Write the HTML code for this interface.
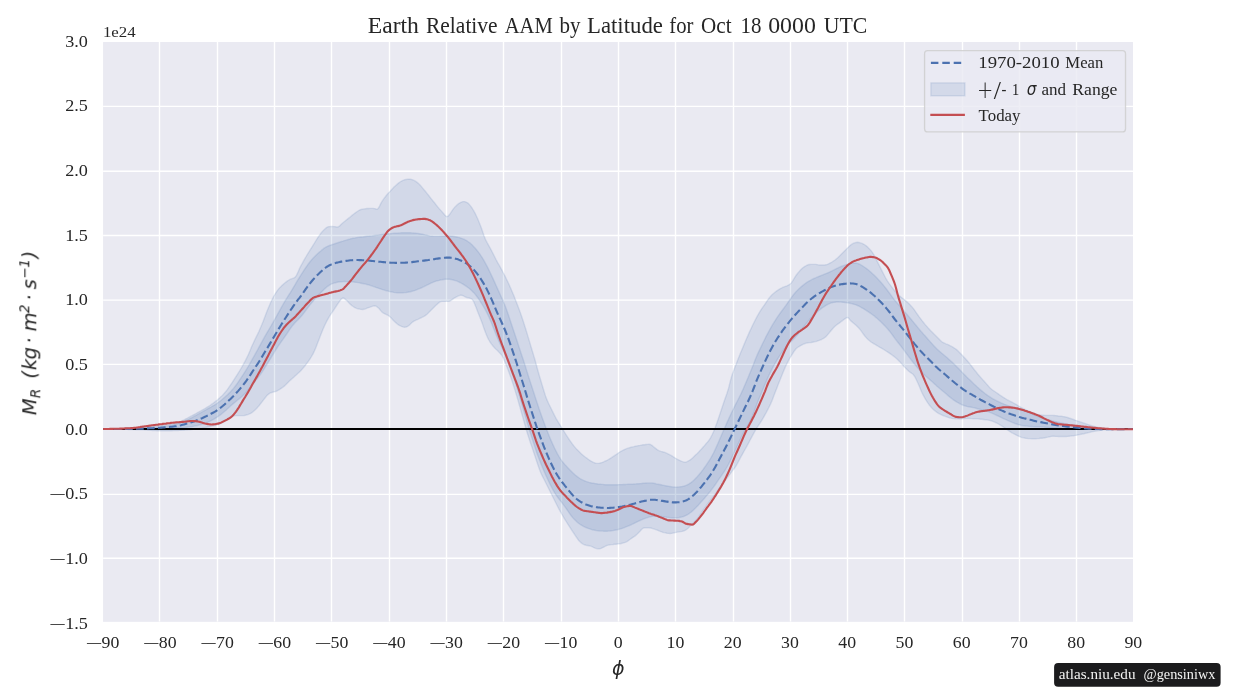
<!DOCTYPE html>
<html lang="en"><head><meta charset="utf-8"><title>Earth Relative AAM by Latitude</title>
<style>html,body{margin:0;padding:0;background:#fff;}body{width:1246px;height:700px;overflow:hidden;}svg{display:block;}</style></head>
<body>
<svg width="1246" height="700" viewBox="0 0 1246 700">
<rect x="0" y="0" width="1246" height="700" fill="#ffffff"/>
<rect x="103.07" y="42.04" width="1029.9" height="579.8" fill="#eaeaf2"/>
<defs><clipPath id="ax"><rect x="103.07" y="42.04" width="1029.9" height="579.8"/></clipPath></defs>
<path d="M159.50 42.04V621.83M217.50 42.04V621.83M274.50 42.04V621.83M331.50 42.04V621.83M389.50 42.04V621.83M446.50 42.04V621.83M503.50 42.04V621.83M561.50 42.04V621.83M618.50 42.04V621.83M675.50 42.04V621.83M733.50 42.04V621.83M790.50 42.04V621.83M847.50 42.04V621.83M904.50 42.04V621.83M962.50 42.04V621.83M1019.50 42.04V621.83M1076.50 42.04V621.83M103.07 106.40H1133.0M103.07 171.20H1133.0M103.07 235.50H1133.0M103.07 300.10H1133.0M103.07 364.40H1133.0M103.07 429.00H1133.0M103.07 494.40H1133.0M103.07 558.20H1133.0" stroke="#ffffff" stroke-width="1.4" fill="none" clip-path="url(#ax)"/>
<g clip-path="url(#ax)">
<polygon points="103.0,429.0 104.5,429.0 106.0,429.0 107.5,429.0 109.0,429.0 110.5,429.0 112.0,429.0 113.5,428.9 115.0,428.9 116.5,428.9 118.0,428.9 119.5,428.9 121.0,428.9 122.5,428.8 124.0,428.8 125.5,428.8 127.0,428.7 128.5,428.7 130.0,428.6 131.5,428.5 133.0,428.3 134.5,428.2 136.0,428.1 137.5,427.9 139.0,427.7 140.5,427.6 142.0,427.4 143.5,427.2 145.0,427.0 146.5,426.9 148.0,426.7 149.5,426.5 151.0,426.4 152.5,426.3 154.0,426.1 155.5,426.0 157.0,425.8 158.5,425.7 160.0,425.5 161.5,425.4 163.0,425.2 164.5,425.0 166.0,424.9 167.5,424.8 169.0,424.6 170.5,424.4 172.0,424.2 173.5,424.0 175.0,423.7 176.5,423.4 178.0,422.8 179.5,422.2 181.0,421.5 182.5,420.7 184.0,419.9 185.5,419.0 187.0,418.3 188.5,417.5 190.0,416.7 191.5,415.9 193.0,415.1 194.5,414.3 196.0,413.5 197.5,412.6 199.0,411.8 200.5,411.0 202.0,410.2 203.5,409.3 205.0,408.5 206.5,407.6 208.0,406.7 209.5,405.8 211.0,404.7 212.5,403.7 214.0,402.6 215.5,401.4 217.0,400.2 218.5,398.9 220.0,397.6 221.5,396.2 223.0,394.7 224.5,393.0 226.0,391.3 227.5,389.3 229.0,387.2 230.5,385.0 232.0,382.8 233.5,380.5 235.0,378.2 236.5,375.8 238.0,373.4 239.5,371.0 241.0,368.5 242.5,365.9 244.0,363.2 245.5,360.4 247.0,357.4 248.5,354.2 250.0,350.7 251.5,347.1 253.0,343.7 254.5,340.5 256.0,337.4 257.5,334.4 259.0,331.2 260.5,327.8 262.0,324.2 263.5,320.5 265.0,316.6 266.5,312.6 268.0,308.7 269.5,305.2 271.0,301.8 272.5,298.7 274.0,295.8 275.5,293.3 277.0,291.1 278.5,289.1 280.0,287.4 281.5,285.9 283.0,284.6 284.5,283.3 286.0,282.1 287.5,280.9 289.0,280.0 290.5,279.2 292.0,278.7 293.5,278.2 295.0,277.3 296.5,275.3 298.0,272.1 299.5,268.6 301.0,265.6 302.5,262.9 304.0,260.2 305.5,257.5 307.0,255.0 308.5,252.6 310.0,250.2 311.5,247.8 313.0,245.4 314.5,243.0 316.0,240.5 317.5,238.1 319.0,235.9 320.5,233.8 322.0,231.9 323.5,230.3 325.0,228.9 326.5,227.6 328.0,226.8 329.5,226.6 331.0,226.5 332.5,226.5 334.0,226.6 335.5,226.8 337.0,227.1 338.5,226.8 340.0,225.6 341.5,224.1 343.0,222.7 344.5,221.5 346.0,220.3 347.5,219.1 349.0,217.9 350.5,216.7 352.0,215.4 353.5,214.2 355.0,213.1 356.5,212.0 358.0,211.0 359.5,210.1 361.0,209.5 362.5,209.1 364.0,208.9 365.5,208.7 367.0,208.5 368.5,208.5 370.0,208.4 371.5,208.4 373.0,208.4 374.5,208.6 376.0,209.0 377.5,209.1 379.0,207.3 380.5,204.1 382.0,201.4 383.5,199.2 385.0,197.2 386.5,195.3 388.0,193.5 389.5,191.9 391.0,190.3 392.5,188.7 394.0,187.1 395.5,185.7 397.0,184.4 398.5,183.1 400.0,182.0 401.5,181.1 403.0,180.4 404.5,179.8 406.0,179.5 407.5,179.3 409.0,179.1 410.5,179.2 412.0,179.6 413.5,180.2 415.0,180.9 416.5,181.9 418.0,183.1 419.5,184.5 421.0,186.1 422.5,187.9 424.0,189.7 425.5,191.5 427.0,193.4 428.5,195.3 430.0,197.2 431.5,199.1 433.0,201.0 434.5,202.8 436.0,204.7 437.5,206.6 439.0,208.4 440.5,210.1 442.0,211.8 443.5,213.5 445.0,215.3 446.5,216.6 448.0,216.2 449.5,214.6 451.0,212.4 452.5,210.1 454.0,208.1 455.5,206.4 457.0,204.9 458.5,203.7 460.0,202.8 461.5,202.1 463.0,201.6 464.5,201.6 466.0,202.1 467.5,202.8 469.0,204.1 470.5,205.9 472.0,208.0 473.5,210.4 475.0,213.1 476.5,216.2 478.0,219.5 479.5,223.2 481.0,227.1 482.5,231.3 484.0,235.7 485.5,239.5 487.0,242.4 488.5,245.1 490.0,247.8 491.5,250.6 493.0,253.5 494.5,256.5 496.0,259.5 497.5,262.3 499.0,264.9 500.5,267.6 502.0,270.3 503.5,273.2 505.0,276.1 506.5,279.2 508.0,282.3 509.5,285.6 511.0,289.0 512.5,292.5 514.0,296.1 515.5,299.9 517.0,303.7 518.5,307.7 520.0,311.8 521.5,316.0 523.0,320.5 524.5,325.2 526.0,330.0 527.5,334.9 529.0,339.9 530.5,345.0 532.0,350.0 533.5,354.9 535.0,360.0 536.5,365.5 538.0,371.0 539.5,376.3 541.0,381.3 542.5,386.3 544.0,391.2 545.5,395.9 547.0,399.9 548.5,403.2 550.0,406.3 551.5,409.3 553.0,412.4 554.5,415.4 556.0,418.3 557.5,420.9 559.0,423.3 560.5,425.7 562.0,428.1 563.5,430.6 565.0,433.0 566.5,435.4 568.0,437.7 569.5,440.0 571.0,442.1 572.5,444.2 574.0,446.1 575.5,447.9 577.0,449.6 578.5,451.1 580.0,452.6 581.5,454.0 583.0,455.3 584.5,456.5 586.0,457.7 587.5,458.7 589.0,459.8 590.5,460.8 592.0,461.6 593.5,462.4 595.0,463.0 596.5,463.4 598.0,463.4 599.5,463.2 601.0,462.8 602.5,462.3 604.0,461.7 605.5,461.0 607.0,460.3 608.5,459.5 610.0,458.6 611.5,457.7 613.0,456.7 614.5,455.7 616.0,454.7 617.5,453.6 619.0,452.5 620.5,451.6 622.0,450.8 623.5,450.0 625.0,449.3 626.5,448.7 628.0,448.2 629.5,447.7 631.0,447.3 632.5,446.9 634.0,446.6 635.5,446.2 637.0,445.9 638.5,445.6 640.0,445.4 641.5,445.1 643.0,444.8 644.5,444.7 646.0,444.5 647.5,444.4 649.0,444.3 650.5,444.5 652.0,445.4 653.5,446.7 655.0,447.9 656.5,449.1 658.0,450.2 659.5,450.9 661.0,451.4 662.5,451.8 664.0,452.2 665.5,452.7 667.0,453.4 668.5,454.1 670.0,454.9 671.5,455.7 673.0,456.7 674.5,457.6 676.0,458.5 677.5,459.4 679.0,460.1 680.5,460.8 682.0,461.4 683.5,461.9 685.0,462.2 686.5,461.9 688.0,461.2 689.5,460.3 691.0,459.3 692.5,458.0 694.0,456.6 695.5,455.1 697.0,453.7 698.5,452.2 700.0,450.6 701.5,449.0 703.0,447.3 704.5,445.6 706.0,443.8 707.5,442.1 709.0,440.2 710.5,437.9 712.0,435.0 713.5,431.8 715.0,428.1 716.5,424.1 718.0,419.8 719.5,415.3 721.0,410.8 722.5,406.2 724.0,401.7 725.5,397.4 727.0,393.2 728.5,388.4 730.0,382.4 731.5,376.8 733.0,372.3 734.5,368.3 736.0,364.4 737.5,360.5 739.0,356.8 740.5,353.1 742.0,349.4 743.5,345.9 745.0,342.3 746.5,338.8 748.0,335.4 749.5,331.9 751.0,328.7 752.5,325.5 754.0,322.5 755.5,319.5 757.0,316.7 758.5,314.0 760.0,311.4 761.5,309.1 763.0,306.9 764.5,304.8 766.0,302.6 767.5,300.3 769.0,298.2 770.5,296.4 772.0,294.8 773.5,293.5 775.0,292.2 776.5,291.1 778.0,290.1 779.5,289.1 781.0,288.3 782.5,287.5 784.0,286.9 785.5,286.3 787.0,285.8 788.5,285.1 790.0,284.1 791.5,282.7 793.0,280.4 794.5,277.8 796.0,275.5 797.5,273.5 799.0,271.7 800.5,270.1 802.0,268.6 803.5,267.3 805.0,266.3 806.5,265.5 808.0,264.8 809.5,264.5 811.0,264.4 812.5,264.4 814.0,264.4 815.5,264.4 817.0,264.6 818.5,264.9 820.0,265.0 821.5,265.0 823.0,265.0 824.5,265.0 826.0,264.8 827.5,264.3 829.0,263.6 830.5,262.8 832.0,262.0 833.5,261.0 835.0,260.0 836.5,258.8 838.0,257.5 839.5,256.1 841.0,254.6 842.5,253.1 844.0,251.6 845.5,250.1 847.0,248.5 848.5,247.0 850.0,245.6 851.5,244.4 853.0,243.5 854.5,242.9 856.0,242.5 857.5,242.3 859.0,242.5 860.5,242.9 862.0,243.4 863.5,244.1 865.0,245.0 866.5,246.1 868.0,247.4 869.5,248.9 871.0,250.6 872.5,252.6 874.0,255.1 875.5,257.9 877.0,260.9 878.5,263.9 880.0,266.9 881.5,269.9 883.0,272.9 884.5,275.8 886.0,278.7 887.5,281.2 889.0,283.3 890.5,285.3 892.0,287.3 893.5,289.3 895.0,291.2 896.5,292.9 898.0,294.4 899.5,295.8 901.0,297.1 902.5,298.3 904.0,299.4 905.5,300.6 907.0,301.9 908.5,303.3 910.0,304.8 911.5,306.4 913.0,308.1 914.5,310.1 916.0,312.3 917.5,314.5 919.0,316.6 920.5,318.6 922.0,320.6 923.5,322.5 925.0,324.4 926.5,326.1 928.0,327.8 929.5,329.4 931.0,331.0 932.5,332.5 934.0,334.1 935.5,335.5 937.0,337.0 938.5,338.5 940.0,340.1 941.5,341.5 943.0,342.5 944.5,343.2 946.0,343.9 947.5,344.4 949.0,345.1 950.5,345.9 952.0,346.7 953.5,347.6 955.0,348.5 956.5,349.6 958.0,350.9 959.5,352.4 961.0,354.0 962.5,355.6 964.0,357.2 965.5,358.8 967.0,360.5 968.5,362.2 970.0,364.1 971.5,366.0 973.0,368.0 974.5,370.0 976.0,371.8 977.5,373.7 979.0,375.5 980.5,377.2 982.0,378.9 983.5,380.6 985.0,382.2 986.5,383.9 988.0,385.6 989.5,387.4 991.0,388.8 992.5,390.0 994.0,391.0 995.5,392.0 997.0,393.0 998.5,394.1 1000.0,395.2 1001.5,396.2 1003.0,397.2 1004.5,398.1 1006.0,399.0 1007.5,399.9 1009.0,400.7 1010.5,401.5 1012.0,402.2 1013.5,403.0 1015.0,403.8 1016.5,404.6 1018.0,405.6 1019.5,406.5 1021.0,407.4 1022.5,408.2 1024.0,408.9 1025.5,409.7 1027.0,410.4 1028.5,411.0 1030.0,411.7 1031.5,412.3 1033.0,412.8 1034.5,413.4 1036.0,413.9 1037.5,414.4 1039.0,414.8 1040.5,415.0 1042.0,415.2 1043.5,415.3 1045.0,415.4 1046.5,415.4 1048.0,415.4 1049.5,415.4 1051.0,415.4 1052.5,415.4 1054.0,415.5 1055.5,415.6 1057.0,415.8 1058.5,416.0 1060.0,416.1 1061.5,416.3 1063.0,416.6 1064.5,416.8 1066.0,417.1 1067.5,417.5 1069.0,418.0 1070.5,418.5 1072.0,419.0 1073.5,419.5 1075.0,420.1 1076.5,420.6 1078.0,421.2 1079.5,421.7 1081.0,422.2 1082.5,422.7 1084.0,423.2 1085.5,423.7 1087.0,424.2 1088.5,424.8 1090.0,425.2 1091.5,425.7 1093.0,426.1 1094.5,426.5 1096.0,426.8 1097.5,427.2 1099.0,427.5 1100.5,427.8 1102.0,428.0 1103.5,428.2 1105.0,428.4 1106.5,428.6 1108.0,428.7 1109.5,428.8 1111.0,428.8 1112.5,428.8 1114.0,428.9 1115.5,428.9 1117.0,428.9 1118.5,428.9 1120.0,428.9 1121.5,428.9 1123.0,429.0 1124.5,429.0 1126.0,429.0 1127.5,429.0 1129.0,429.0 1130.5,429.0 1133.0,429.0 1133.0,429.0 1130.5,429.0 1129.0,429.0 1127.5,429.0 1126.0,429.1 1124.5,429.1 1123.0,429.1 1121.5,429.1 1120.0,429.1 1118.5,429.1 1117.0,429.1 1115.5,429.1 1114.0,429.1 1112.5,429.2 1111.0,429.3 1109.5,429.4 1108.0,429.5 1106.5,429.6 1105.0,429.7 1103.5,429.9 1102.0,430.1 1100.5,430.3 1099.0,430.5 1097.5,430.8 1096.0,431.0 1094.5,431.3 1093.0,431.6 1091.5,431.9 1090.0,432.3 1088.5,432.6 1087.0,433.0 1085.5,433.3 1084.0,433.7 1082.5,434.0 1081.0,434.3 1079.5,434.6 1078.0,434.9 1076.5,435.2 1075.0,435.4 1073.5,435.7 1072.0,435.9 1070.5,436.1 1069.0,436.2 1067.5,436.4 1066.0,436.5 1064.5,436.5 1063.0,436.5 1061.5,436.5 1060.0,436.5 1058.5,436.5 1057.0,436.4 1055.5,436.4 1054.0,436.3 1052.5,436.3 1051.0,436.4 1049.5,436.7 1048.0,437.1 1046.5,437.4 1045.0,437.7 1043.5,438.0 1042.0,438.2 1040.5,438.3 1039.0,438.5 1037.5,438.6 1036.0,438.7 1034.5,438.7 1033.0,438.7 1031.5,438.7 1030.0,438.6 1028.5,438.6 1027.0,438.4 1025.5,438.2 1024.0,437.9 1022.5,437.6 1021.0,437.2 1019.5,436.6 1018.0,435.9 1016.5,435.2 1015.0,434.4 1013.5,433.6 1012.0,432.8 1010.5,431.9 1009.0,430.9 1007.5,430.0 1006.0,428.9 1004.5,427.8 1003.0,426.7 1001.5,425.8 1000.0,424.8 998.5,424.0 997.0,423.2 995.5,422.5 994.0,421.8 992.5,421.2 991.0,420.8 989.5,420.4 988.0,420.1 986.5,419.9 985.0,419.7 983.5,419.5 982.0,419.3 980.5,419.2 979.0,419.0 977.5,418.9 976.0,418.8 974.5,418.7 973.0,418.7 971.5,418.6 970.0,418.5 968.5,418.5 967.0,418.5 965.5,418.6 964.0,418.7 962.5,418.9 961.0,419.0 959.5,419.0 958.0,418.9 956.5,418.9 955.0,418.7 953.5,418.6 952.0,418.4 950.5,418.1 949.0,417.7 947.5,417.2 946.0,416.6 944.5,416.1 943.0,415.5 941.5,414.9 940.0,414.1 938.5,413.3 937.0,412.4 935.5,411.3 934.0,410.1 932.5,408.7 931.0,407.1 929.5,405.3 928.0,403.2 926.5,400.9 925.0,398.4 923.5,395.7 922.0,392.7 920.5,389.2 919.0,385.6 917.5,382.2 916.0,379.0 914.5,376.2 913.0,374.3 911.5,373.2 910.0,372.2 908.5,371.0 907.0,369.6 905.5,368.1 904.0,366.5 902.5,364.8 901.0,363.1 899.5,361.4 898.0,359.9 896.5,358.5 895.0,357.3 893.5,356.1 892.0,355.0 890.5,353.9 889.0,352.9 887.5,351.9 886.0,351.0 884.5,350.0 883.0,349.1 881.5,348.2 880.0,347.4 878.5,346.5 877.0,345.6 875.5,344.7 874.0,343.8 872.5,342.9 871.0,342.0 869.5,340.8 868.0,339.5 866.5,337.9 865.0,336.2 863.5,334.3 862.0,332.1 860.5,330.1 859.0,328.3 857.5,326.8 856.0,325.3 854.5,324.0 853.0,322.7 851.5,321.4 850.0,319.9 848.5,317.9 847.0,317.5 845.5,318.4 844.0,319.4 842.5,320.6 841.0,321.7 839.5,322.9 838.0,323.9 836.5,325.0 835.0,326.3 833.5,327.8 832.0,329.5 830.5,331.3 829.0,333.1 827.5,334.9 826.0,336.6 824.5,337.8 823.0,338.7 821.5,339.5 820.0,340.1 818.5,340.7 817.0,341.2 815.5,341.6 814.0,341.9 812.5,342.2 811.0,342.5 809.5,342.6 808.0,342.8 806.5,343.1 805.0,343.5 803.5,344.1 802.0,344.9 800.5,345.7 799.0,346.6 797.5,347.5 796.0,348.8 794.5,350.7 793.0,353.0 791.5,355.4 790.0,357.9 788.5,360.6 787.0,363.5 785.5,366.6 784.0,370.1 782.5,373.7 781.0,377.5 779.5,381.3 778.0,385.1 776.5,388.9 775.0,392.8 773.5,396.8 772.0,400.7 770.5,404.1 769.0,407.2 767.5,410.1 766.0,413.0 764.5,415.7 763.0,418.3 761.5,420.8 760.0,423.1 758.5,425.3 757.0,427.6 755.5,430.1 754.0,432.8 752.5,435.6 751.0,438.4 749.5,441.3 748.0,444.1 746.5,446.8 745.0,449.5 743.5,452.2 742.0,454.9 740.5,457.6 739.0,460.5 737.5,463.3 736.0,465.9 734.5,468.2 733.0,470.1 731.5,472.1 730.0,474.2 728.5,476.2 727.0,478.1 725.5,480.1 724.0,482.0 722.5,483.9 721.0,486.0 719.5,488.0 718.0,490.2 716.5,492.3 715.0,494.4 713.5,496.4 712.0,498.3 710.5,500.2 709.0,502.2 707.5,504.2 706.0,506.3 704.5,508.4 703.0,510.5 701.5,512.7 700.0,514.9 698.5,517.1 697.0,519.1 695.5,520.8 694.0,522.3 692.5,523.8 691.0,525.3 689.5,526.8 688.0,528.3 686.5,529.5 685.0,530.4 683.5,531.0 682.0,531.4 680.5,531.6 679.0,531.9 677.5,532.1 676.0,532.4 674.5,532.8 673.0,533.1 671.5,533.4 670.0,533.5 668.5,533.4 667.0,533.2 665.5,532.9 664.0,532.6 662.5,532.2 661.0,531.7 659.5,531.1 658.0,530.4 656.5,529.8 655.0,529.3 653.5,528.8 652.0,528.3 650.5,528.0 649.0,527.8 647.5,527.8 646.0,527.8 644.5,527.8 643.0,528.2 641.5,529.5 640.0,531.2 638.5,532.8 637.0,534.3 635.5,535.6 634.0,536.7 632.5,537.7 631.0,538.7 629.5,539.8 628.0,540.9 626.5,541.8 625.0,542.4 623.5,542.9 622.0,543.3 620.5,543.7 619.0,543.9 617.5,544.0 616.0,544.2 614.5,544.3 613.0,544.5 611.5,544.6 610.0,544.8 608.5,545.1 607.0,545.4 605.5,546.1 604.0,547.0 602.5,547.7 601.0,548.4 599.5,548.9 598.0,548.9 596.5,548.6 595.0,548.1 593.5,547.4 592.0,546.6 590.5,546.1 589.0,545.8 587.5,545.5 586.0,545.2 584.5,544.8 583.0,544.1 581.5,543.1 580.0,541.8 578.5,540.2 577.0,538.0 575.5,535.8 574.0,533.5 572.5,531.3 571.0,529.0 569.5,526.7 568.0,524.4 566.5,522.0 565.0,519.6 563.5,517.1 562.0,514.5 560.5,511.8 559.0,509.1 557.5,506.2 556.0,503.3 554.5,500.3 553.0,497.3 551.5,494.3 550.0,491.3 548.5,488.3 547.0,485.3 545.5,482.3 544.0,479.3 542.5,476.4 541.0,473.2 539.5,469.6 538.0,465.2 536.5,460.8 535.0,456.3 533.5,451.8 532.0,447.3 530.5,442.9 529.0,438.4 527.5,433.7 526.0,428.7 524.5,423.4 523.0,418.0 521.5,412.7 520.0,407.3 518.5,402.0 517.0,396.8 515.5,391.9 514.0,387.1 512.5,382.4 511.0,377.9 509.5,373.7 508.0,369.7 506.5,366.0 505.0,362.2 503.5,358.4 502.0,355.6 500.5,353.7 499.0,352.2 497.5,350.6 496.0,349.2 494.5,347.7 493.0,346.0 491.5,344.1 490.0,342.0 488.5,339.5 487.0,336.3 485.5,332.6 484.0,328.6 482.5,324.1 481.0,320.0 479.5,316.3 478.0,312.6 476.5,308.6 475.0,304.8 473.5,301.3 472.0,299.1 470.5,298.4 469.0,298.0 467.5,297.7 466.0,297.3 464.5,296.5 463.0,295.7 461.5,295.2 460.0,295.3 458.5,295.8 457.0,296.6 455.5,297.4 454.0,298.2 452.5,299.4 451.0,300.5 449.5,301.2 448.0,301.4 446.5,301.4 445.0,301.4 443.5,301.4 442.0,301.4 440.5,301.6 439.0,302.6 437.5,303.9 436.0,305.3 434.5,306.8 433.0,308.3 431.5,309.8 430.0,311.3 428.5,312.8 427.0,314.2 425.5,315.4 424.0,316.3 422.5,317.1 421.0,317.8 419.5,318.5 418.0,319.3 416.5,319.9 415.0,320.6 413.5,321.4 412.0,322.5 410.5,324.1 409.0,325.5 407.5,326.4 406.0,327.0 404.5,327.2 403.0,326.9 401.5,326.4 400.0,325.7 398.5,324.9 397.0,323.7 395.5,322.4 394.0,321.0 392.5,319.4 391.0,317.8 389.5,316.4 388.0,315.3 386.5,314.6 385.0,313.9 383.5,313.2 382.0,312.1 380.5,310.4 379.0,308.5 377.5,307.2 376.0,306.1 374.5,305.8 373.0,306.1 371.5,306.6 370.0,307.2 368.5,307.7 367.0,308.2 365.5,308.8 364.0,309.3 362.5,309.5 361.0,309.4 359.5,309.1 358.0,308.8 356.5,308.3 355.0,307.7 353.5,306.8 352.0,305.7 350.5,304.4 349.0,302.9 347.5,301.3 346.0,299.9 344.5,298.5 343.0,297.9 341.5,298.8 340.0,300.7 338.5,302.8 337.0,305.0 335.5,307.3 334.0,309.6 332.5,311.8 331.0,314.0 329.5,316.3 328.0,318.9 326.5,321.7 325.0,324.8 323.5,328.1 322.0,331.7 320.5,335.5 319.0,339.4 317.5,343.3 316.0,347.2 314.5,350.8 313.0,353.9 311.5,356.5 310.0,358.9 308.5,361.1 307.0,363.2 305.5,365.2 304.0,367.0 302.5,368.8 301.0,370.4 299.5,372.0 298.0,373.3 296.5,374.7 295.0,376.0 293.5,377.4 292.0,378.8 290.5,380.1 289.0,381.5 287.5,383.0 286.0,384.5 284.5,385.9 283.0,387.1 281.5,388.2 280.0,389.2 278.5,390.1 277.0,390.9 275.5,391.5 274.0,391.9 272.5,392.3 271.0,392.7 269.5,393.4 268.0,394.6 266.5,396.1 265.0,398.0 263.5,399.9 262.0,401.9 260.5,403.8 259.0,405.7 257.5,407.4 256.0,409.0 254.5,410.4 253.0,411.8 251.5,412.9 250.0,413.7 248.5,414.3 247.0,414.8 245.5,415.2 244.0,415.5 242.5,415.6 241.0,415.6 239.5,415.6 238.0,415.6 236.5,415.6 235.0,415.6 233.5,416.0 232.0,416.8 230.5,417.8 229.0,418.7 227.5,419.7 226.0,420.6 224.5,421.5 223.0,422.4 221.5,423.2 220.0,424.0 218.5,424.6 217.0,425.1 215.5,425.5 214.0,425.8 212.5,426.1 211.0,426.4 209.5,426.7 208.0,427.0 206.5,427.3 205.0,427.6 203.5,427.9 202.0,428.2 200.5,428.4 199.0,428.6 197.5,428.8 196.0,429.0 194.5,429.2 193.0,429.4 191.5,429.6 190.0,429.7 188.5,429.9 187.0,430.0 185.5,430.1 184.0,430.2 182.5,430.3 181.0,430.4 179.5,430.4 178.0,430.5 176.5,430.5 175.0,430.6 173.5,430.6 172.0,430.7 170.5,430.7 169.0,430.7 167.5,430.8 166.0,430.8 164.5,430.8 163.0,430.8 161.5,430.8 160.0,430.8 158.5,430.7 157.0,430.7 155.5,430.6 154.0,430.5 152.5,430.5 151.0,430.4 149.5,430.3 148.0,430.2 146.5,430.1 145.0,430.0 143.5,429.9 142.0,429.9 140.5,429.8 139.0,429.8 137.5,429.7 136.0,429.7 134.5,429.6 133.0,429.6 131.5,429.6 130.0,429.5 128.5,429.5 127.0,429.4 125.5,429.4 124.0,429.4 122.5,429.3 121.0,429.3 119.5,429.3 118.0,429.2 116.5,429.2 115.0,429.2 113.5,429.1 112.0,429.1 110.5,429.1 109.0,429.1 107.5,429.0 106.0,429.0 104.5,429.0 103.0,429.0" fill="#4c72b0" fill-opacity="0.15" stroke="#4c72b0" stroke-opacity="0.15" stroke-width="1.4" stroke-linejoin="round"/>
<polygon points="103.0,429.0 104.5,429.0 106.0,429.0 107.5,429.0 109.0,429.0 110.5,429.0 112.0,429.0 113.5,429.0 115.0,428.9 116.5,428.9 118.0,428.9 119.5,428.9 121.0,428.9 122.5,428.9 124.0,428.8 125.5,428.8 127.0,428.8 128.5,428.8 130.0,428.8 131.5,428.7 133.0,428.7 134.5,428.6 136.0,428.6 137.5,428.5 139.0,428.5 140.5,428.4 142.0,428.3 143.5,428.3 145.0,428.2 146.5,428.1 148.0,428.0 149.5,427.9 151.0,427.7 152.5,427.6 154.0,427.5 155.5,427.4 157.0,427.2 158.5,427.1 160.0,426.9 161.5,426.8 163.0,426.6 164.5,426.4 166.0,426.2 167.5,426.0 169.0,425.7 170.5,425.5 172.0,425.2 173.5,424.9 175.0,424.5 176.5,424.1 178.0,423.7 179.5,423.1 181.0,422.6 182.5,421.9 184.0,421.3 185.5,420.6 187.0,420.0 188.5,419.3 190.0,418.5 191.5,417.8 193.0,417.0 194.5,416.2 196.0,415.4 197.5,414.5 199.0,413.7 200.5,412.9 202.0,412.0 203.5,411.2 205.0,410.3 206.5,409.5 208.0,408.6 209.5,407.8 211.0,407.0 212.5,406.1 214.0,405.3 215.5,404.4 217.0,403.4 218.5,402.3 220.0,401.2 221.5,400.0 223.0,398.7 224.5,397.4 226.0,396.0 227.5,394.7 229.0,393.2 230.5,391.7 232.0,390.1 233.5,388.4 235.0,386.5 236.5,384.5 238.0,382.3 239.5,380.1 241.0,377.9 242.5,375.6 244.0,373.3 245.5,370.9 247.0,368.5 248.5,366.0 250.0,363.4 251.5,360.7 253.0,358.0 254.5,355.4 256.0,352.7 257.5,350.0 259.0,347.2 260.5,344.4 262.0,341.7 263.5,338.9 265.0,336.2 266.5,333.6 268.0,331.1 269.5,328.5 271.0,326.0 272.5,323.4 274.0,320.7 275.5,318.0 277.0,315.3 278.5,312.6 280.0,309.9 281.5,307.2 283.0,304.5 284.5,301.9 286.0,299.4 287.5,297.0 289.0,294.6 290.5,292.3 292.0,289.8 293.5,287.3 295.0,284.8 296.5,282.2 298.0,279.7 299.5,277.3 301.0,274.9 302.5,272.6 304.0,270.2 305.5,268.0 307.0,265.8 308.5,263.7 310.0,261.8 311.5,260.0 313.0,258.3 314.5,256.7 316.0,255.2 317.5,253.8 319.0,252.4 320.5,251.2 322.0,249.9 323.5,248.7 325.0,247.7 326.5,246.8 328.0,246.1 329.5,245.5 331.0,245.0 332.5,244.5 334.0,244.0 335.5,243.5 337.0,243.0 338.5,242.5 340.0,242.0 341.5,241.5 343.0,241.1 344.5,240.6 346.0,240.2 347.5,239.7 349.0,239.3 350.5,238.8 352.0,238.5 353.5,238.1 355.0,237.9 356.5,237.6 358.0,237.4 359.5,237.2 361.0,237.0 362.5,236.9 364.0,236.7 365.5,236.5 367.0,236.3 368.5,236.2 370.0,236.0 371.5,235.9 373.0,235.7 374.5,235.5 376.0,235.3 377.5,235.1 379.0,234.9 380.5,234.7 382.0,234.5 383.5,234.3 385.0,234.1 386.5,234.0 388.0,233.8 389.5,233.7 391.0,233.6 392.5,233.4 394.0,233.3 395.5,233.2 397.0,233.1 398.5,233.0 400.0,232.9 401.5,232.8 403.0,232.7 404.5,232.7 406.0,232.7 407.5,232.7 409.0,232.7 410.5,232.8 412.0,232.9 413.5,233.0 415.0,233.1 416.5,233.3 418.0,233.4 419.5,233.7 421.0,234.0 422.5,234.3 424.0,234.6 425.5,234.9 427.0,235.2 428.5,235.6 430.0,235.9 431.5,236.1 433.0,236.3 434.5,236.4 436.0,236.4 437.5,236.4 439.0,236.4 440.5,236.3 442.0,236.2 443.5,236.1 445.0,236.0 446.5,235.9 448.0,235.9 449.5,235.9 451.0,236.1 452.5,236.3 454.0,236.5 455.5,236.7 457.0,237.0 458.5,237.4 460.0,237.8 461.5,238.3 463.0,238.9 464.5,239.5 466.0,240.3 467.5,241.2 469.0,242.3 470.5,243.4 472.0,244.8 473.5,246.4 475.0,248.0 476.5,249.8 478.0,251.6 479.5,253.6 481.0,255.8 482.5,258.1 484.0,260.7 485.5,263.4 487.0,266.2 488.5,269.1 490.0,272.2 491.5,275.4 493.0,278.6 494.5,281.9 496.0,285.3 497.5,288.6 499.0,291.9 500.5,295.2 502.0,298.5 503.5,301.9 505.0,305.6 506.5,309.5 508.0,313.8 509.5,318.2 511.0,322.7 512.5,327.3 514.0,331.8 515.5,336.3 517.0,340.8 518.5,345.4 520.0,350.0 521.5,354.5 523.0,359.0 524.5,363.6 526.0,368.4 527.5,373.3 529.0,378.0 530.5,382.6 532.0,387.1 533.5,391.8 535.0,396.4 536.5,401.0 538.0,405.5 539.5,409.9 541.0,414.2 542.5,418.4 544.0,422.6 545.5,426.7 547.0,430.6 548.5,434.3 550.0,437.9 551.5,441.4 553.0,444.7 554.5,448.0 556.0,451.0 557.5,453.9 559.0,456.5 560.5,458.9 562.0,461.1 563.5,463.0 565.0,464.7 566.5,466.3 568.0,467.9 569.5,469.5 571.0,471.0 572.5,472.5 574.0,473.9 575.5,475.2 577.0,476.4 578.5,477.5 580.0,478.5 581.5,479.4 583.0,480.2 584.5,480.8 586.0,481.4 587.5,481.9 589.0,482.4 590.5,482.7 592.0,483.1 593.5,483.3 595.0,483.6 596.5,483.8 598.0,484.0 599.5,484.1 601.0,484.3 602.5,484.4 604.0,484.6 605.5,484.7 607.0,484.8 608.5,484.8 610.0,484.8 611.5,484.8 613.0,484.8 614.5,484.7 616.0,484.7 617.5,484.7 619.0,484.6 620.5,484.6 622.0,484.6 623.5,484.5 625.0,484.5 626.5,484.4 628.0,484.3 629.5,484.3 631.0,484.2 632.5,484.1 634.0,484.0 635.5,483.9 637.0,483.8 638.5,483.7 640.0,483.6 641.5,483.5 643.0,483.3 644.5,483.2 646.0,483.0 647.5,482.9 649.0,482.9 650.5,482.9 652.0,482.9 653.5,483.2 655.0,483.5 656.5,483.9 658.0,484.2 659.5,484.5 661.0,484.8 662.5,485.1 664.0,485.4 665.5,485.7 667.0,486.0 668.5,486.3 670.0,486.5 671.5,486.8 673.0,486.9 674.5,487.0 676.0,487.1 677.5,487.0 679.0,486.9 680.5,486.7 682.0,486.5 683.5,486.2 685.0,485.8 686.5,485.2 688.0,484.5 689.5,483.6 691.0,482.6 692.5,481.4 694.0,480.0 695.5,478.5 697.0,476.9 698.5,475.2 700.0,473.5 701.5,471.6 703.0,469.6 704.5,467.5 706.0,465.4 707.5,463.2 709.0,460.9 710.5,458.5 712.0,455.8 713.5,453.0 715.0,449.9 716.5,446.6 718.0,443.2 719.5,439.7 721.0,436.2 722.5,432.8 724.0,429.4 725.5,426.0 727.0,422.6 728.5,419.3 730.0,416.1 731.5,412.8 733.0,409.7 734.5,406.6 736.0,403.6 737.5,400.7 739.0,397.8 740.5,394.8 742.0,391.6 743.5,388.3 745.0,384.8 746.5,381.3 748.0,377.7 749.5,374.1 751.0,370.4 752.5,366.7 754.0,362.9 755.5,359.0 757.0,355.4 758.5,352.1 760.0,349.0 761.5,345.9 763.0,342.8 764.5,339.7 766.0,336.6 767.5,333.8 769.0,331.0 770.5,328.3 772.0,325.7 773.5,323.2 775.0,320.8 776.5,318.4 778.0,316.2 779.5,314.1 781.0,312.0 782.5,310.0 784.0,308.0 785.5,305.9 787.0,303.8 788.5,301.6 790.0,299.5 791.5,297.4 793.0,295.3 794.5,293.5 796.0,291.8 797.5,290.2 799.0,288.7 800.5,287.4 802.0,286.1 803.5,284.9 805.0,283.7 806.5,282.6 808.0,281.7 809.5,280.8 811.0,280.0 812.5,279.2 814.0,278.5 815.5,277.9 817.0,277.2 818.5,276.6 820.0,276.0 821.5,275.4 823.0,274.8 824.5,274.2 826.0,273.6 827.5,273.0 829.0,272.3 830.5,271.6 832.0,270.9 833.5,270.2 835.0,269.4 836.5,268.6 838.0,267.9 839.5,267.2 841.0,266.5 842.5,265.9 844.0,265.4 845.5,264.9 847.0,264.4 848.5,264.0 850.0,263.6 851.5,263.3 853.0,263.1 854.5,263.1 856.0,263.1 857.5,263.4 859.0,264.0 860.5,264.7 862.0,265.5 863.5,266.5 865.0,267.5 866.5,268.6 868.0,269.7 869.5,271.0 871.0,272.3 872.5,273.7 874.0,275.1 875.5,276.6 877.0,278.1 878.5,279.7 880.0,281.3 881.5,283.0 883.0,284.8 884.5,286.6 886.0,288.5 887.5,290.5 889.0,292.5 890.5,294.5 892.0,296.6 893.5,298.6 895.0,300.5 896.5,302.3 898.0,304.0 899.5,305.7 901.0,307.4 902.5,309.2 904.0,310.9 905.5,312.7 907.0,314.4 908.5,316.2 910.0,318.0 911.5,319.8 913.0,321.6 914.5,323.5 916.0,325.3 917.5,327.1 919.0,328.9 920.5,330.7 922.0,332.4 923.5,334.2 925.0,335.8 926.5,337.5 928.0,339.2 929.5,340.9 931.0,342.6 932.5,344.3 934.0,345.9 935.5,347.5 937.0,349.0 938.5,350.4 940.0,351.7 941.5,353.0 943.0,354.2 944.5,355.5 946.0,356.7 947.5,358.0 949.0,359.4 950.5,360.7 952.0,362.1 953.5,363.6 955.0,365.0 956.5,366.5 958.0,368.0 959.5,369.6 961.0,371.1 962.5,372.7 964.0,374.3 965.5,375.8 967.0,377.3 968.5,378.7 970.0,380.1 971.5,381.6 973.0,383.0 974.5,384.4 976.0,385.8 977.5,387.2 979.0,388.6 980.5,389.9 982.0,391.1 983.5,392.3 985.0,393.5 986.5,394.6 988.0,395.7 989.5,396.7 991.0,397.7 992.5,398.6 994.0,399.4 995.5,400.2 997.0,401.0 998.5,401.7 1000.0,402.4 1001.5,403.1 1003.0,403.7 1004.5,404.3 1006.0,404.8 1007.5,405.4 1009.0,405.9 1010.5,406.4 1012.0,406.8 1013.5,407.3 1015.0,407.8 1016.5,408.3 1018.0,408.7 1019.5,409.2 1021.0,409.7 1022.5,410.2 1024.0,410.7 1025.5,411.2 1027.0,411.8 1028.5,412.4 1030.0,413.1 1031.5,413.8 1033.0,414.4 1034.5,415.1 1036.0,415.7 1037.5,416.3 1039.0,416.8 1040.5,417.3 1042.0,417.8 1043.5,418.3 1045.0,418.8 1046.5,419.2 1048.0,419.7 1049.5,420.1 1051.0,420.5 1052.5,420.9 1054.0,421.3 1055.5,421.6 1057.0,422.0 1058.5,422.3 1060.0,422.7 1061.5,423.0 1063.0,423.3 1064.5,423.6 1066.0,424.0 1067.5,424.3 1069.0,424.6 1070.5,424.9 1072.0,425.2 1073.5,425.5 1075.0,425.8 1076.5,426.0 1078.0,426.3 1079.5,426.5 1081.0,426.7 1082.5,427.0 1084.0,427.2 1085.5,427.4 1087.0,427.6 1088.5,427.8 1090.0,428.0 1091.5,428.2 1093.0,428.3 1094.5,428.5 1096.0,428.6 1097.5,428.7 1099.0,428.8 1100.5,428.9 1102.0,428.9 1103.5,429.0 1105.0,429.0 1106.5,429.0 1108.0,429.0 1109.5,429.0 1111.0,429.0 1112.5,429.0 1114.0,429.0 1115.5,429.1 1117.0,429.1 1118.5,429.1 1120.0,429.1 1121.5,429.1 1123.0,429.1 1124.5,429.1 1126.0,429.0 1127.5,429.0 1129.0,429.0 1130.5,429.0 1133.0,429.0 1133.0,429.0 1130.5,429.0 1129.0,429.0 1127.5,429.0 1126.0,429.1 1124.5,429.1 1123.0,429.1 1121.5,429.1 1120.0,429.1 1118.5,429.1 1117.0,429.1 1115.5,429.1 1114.0,429.1 1112.5,429.2 1111.0,429.2 1109.5,429.2 1108.0,429.2 1106.5,429.2 1105.0,429.2 1103.5,429.2 1102.0,429.2 1100.5,429.3 1099.0,429.3 1097.5,429.3 1096.0,429.3 1094.5,429.3 1093.0,429.3 1091.5,429.3 1090.0,429.3 1088.5,429.3 1087.0,429.3 1085.5,429.3 1084.0,429.3 1082.5,429.3 1081.0,429.2 1079.5,429.2 1078.0,429.2 1076.5,429.2 1075.0,429.2 1073.5,429.2 1072.0,429.1 1070.5,429.1 1069.0,429.0 1067.5,428.9 1066.0,428.8 1064.5,428.7 1063.0,428.7 1061.5,428.6 1060.0,428.5 1058.5,428.4 1057.0,428.3 1055.5,428.2 1054.0,428.1 1052.5,428.0 1051.0,427.8 1049.5,427.7 1048.0,427.5 1046.5,427.4 1045.0,427.2 1043.5,427.1 1042.0,427.0 1040.5,426.9 1039.0,426.8 1037.5,426.8 1036.0,426.7 1034.5,426.7 1033.0,426.6 1031.5,426.5 1030.0,426.4 1028.5,426.3 1027.0,426.1 1025.5,426.0 1024.0,425.8 1022.5,425.6 1021.0,425.3 1019.5,424.9 1018.0,424.5 1016.5,424.0 1015.0,423.5 1013.5,422.9 1012.0,422.3 1010.5,421.7 1009.0,421.0 1007.5,420.4 1006.0,419.7 1004.5,419.1 1003.0,418.4 1001.5,417.7 1000.0,416.9 998.5,416.2 997.0,415.5 995.5,414.8 994.0,414.1 992.5,413.4 991.0,412.8 989.5,412.2 988.0,411.6 986.5,411.1 985.0,410.7 983.5,410.3 982.0,409.9 980.5,409.5 979.0,409.1 977.5,408.7 976.0,408.3 974.5,407.9 973.0,407.6 971.5,407.3 970.0,407.0 968.5,406.7 967.0,406.4 965.5,406.0 964.0,405.5 962.5,405.0 961.0,404.3 959.5,403.6 958.0,402.7 956.5,401.9 955.0,400.9 953.5,399.9 952.0,398.8 950.5,397.6 949.0,396.4 947.5,395.1 946.0,393.8 944.5,392.5 943.0,391.3 941.5,390.0 940.0,388.8 938.5,387.5 937.0,386.2 935.5,384.8 934.0,383.4 932.5,382.0 931.0,380.7 929.5,379.4 928.0,378.1 926.5,376.8 925.0,375.5 923.5,374.1 922.0,372.6 920.5,371.1 919.0,369.4 917.5,367.7 916.0,365.9 914.5,364.1 913.0,362.2 911.5,360.3 910.0,358.3 908.5,356.3 907.0,354.3 905.5,352.3 904.0,350.3 902.5,348.2 901.0,346.3 899.5,344.4 898.0,342.5 896.5,340.6 895.0,338.6 893.5,336.5 892.0,334.4 890.5,332.4 889.0,330.5 887.5,328.8 886.0,327.1 884.5,325.6 883.0,324.0 881.5,322.5 880.0,321.1 878.5,319.7 877.0,318.3 875.5,317.1 874.0,315.8 872.5,314.7 871.0,313.6 869.5,312.6 868.0,311.6 866.5,310.6 865.0,309.7 863.5,308.7 862.0,307.9 860.5,307.0 859.0,306.2 857.5,305.5 856.0,304.9 854.5,304.4 853.0,304.0 851.5,303.6 850.0,303.3 848.5,303.0 847.0,302.8 845.5,302.6 844.0,302.4 842.5,302.2 841.0,302.1 839.5,302.1 838.0,302.0 836.5,302.0 835.0,302.2 833.5,302.4 832.0,302.7 830.5,303.2 829.0,303.8 827.5,304.6 826.0,305.4 824.5,306.4 823.0,307.3 821.5,308.4 820.0,309.6 818.5,310.8 817.0,312.1 815.5,313.5 814.0,314.9 812.5,316.4 811.0,318.0 809.5,319.6 808.0,321.4 806.5,323.2 805.0,325.2 803.5,327.2 802.0,329.2 800.5,331.1 799.0,332.9 797.5,334.7 796.0,336.3 794.5,337.9 793.0,339.4 791.5,340.9 790.0,342.4 788.5,343.9 787.0,345.5 785.5,347.3 784.0,349.4 782.5,351.5 781.0,353.8 779.5,356.1 778.0,358.4 776.5,360.9 775.0,363.5 773.5,366.2 772.0,369.1 770.5,372.1 769.0,375.3 767.5,378.6 766.0,382.1 764.5,385.6 763.0,389.3 761.5,392.9 760.0,396.5 758.5,400.0 757.0,403.8 755.5,407.9 754.0,412.1 752.5,416.0 751.0,419.4 749.5,422.5 748.0,425.2 746.5,427.7 745.0,430.2 743.5,432.9 742.0,435.8 740.5,439.0 739.0,442.2 737.5,445.5 736.0,448.7 734.5,451.9 733.0,455.1 731.5,458.3 730.0,461.4 728.5,464.3 727.0,467.0 725.5,469.5 724.0,471.9 722.5,474.1 721.0,476.3 719.5,478.4 718.0,480.6 716.5,482.8 715.0,485.0 713.5,487.1 712.0,489.1 710.5,491.1 709.0,492.9 707.5,494.7 706.0,496.4 704.5,498.2 703.0,499.9 701.5,501.5 700.0,503.2 698.5,504.9 697.0,506.4 695.5,508.0 694.0,509.5 692.5,510.9 691.0,512.2 689.5,513.3 688.0,514.3 686.5,515.2 685.0,515.9 683.5,516.5 682.0,516.9 680.5,517.2 679.0,517.5 677.5,517.7 676.0,517.8 674.5,517.9 673.0,517.8 671.5,517.7 670.0,517.6 668.5,517.4 667.0,517.3 665.5,517.1 664.0,516.9 662.5,516.7 661.0,516.5 659.5,516.4 658.0,516.2 656.5,516.2 655.0,516.2 653.5,516.2 652.0,516.4 650.5,516.7 649.0,517.1 647.5,517.6 646.0,518.1 644.5,518.6 643.0,519.2 641.5,519.8 640.0,520.5 638.5,521.2 637.0,521.9 635.5,522.7 634.0,523.4 632.5,524.1 631.0,524.8 629.5,525.5 628.0,526.1 626.5,526.7 625.0,527.3 623.5,527.9 622.0,528.4 620.5,528.9 619.0,529.3 617.5,529.7 616.0,530.0 614.5,530.3 613.0,530.6 611.5,530.8 610.0,531.0 608.5,531.1 607.0,531.2 605.5,531.2 604.0,531.2 602.5,531.1 601.0,531.1 599.5,531.0 598.0,530.8 596.5,530.6 595.0,530.3 593.5,530.0 592.0,529.7 590.5,529.2 589.0,528.7 587.5,528.2 586.0,527.5 584.5,526.9 583.0,526.1 581.5,525.2 580.0,524.3 578.5,523.2 577.0,522.0 575.5,520.6 574.0,519.1 572.5,517.4 571.0,515.5 569.5,513.4 568.0,511.2 566.5,509.0 565.0,506.8 563.5,504.8 562.0,502.8 560.5,500.9 559.0,499.0 557.5,497.0 556.0,494.9 554.5,492.5 553.0,489.8 551.5,487.0 550.0,484.1 548.5,481.0 547.0,477.8 545.5,474.5 544.0,471.0 542.5,467.4 541.0,463.7 539.5,460.0 538.0,456.0 536.5,451.9 535.0,447.4 533.5,442.7 532.0,438.0 530.5,433.4 529.0,428.6 527.5,423.6 526.0,418.4 524.5,413.2 523.0,408.1 521.5,403.0 520.0,397.9 518.5,392.8 517.0,387.8 515.5,383.0 514.0,378.3 512.5,373.9 511.0,369.7 509.5,365.6 508.0,361.7 506.5,358.0 505.0,354.5 503.5,351.1 502.0,347.8 500.5,344.7 499.0,341.4 497.5,338.0 496.0,334.4 494.5,330.6 493.0,326.9 491.5,323.1 490.0,319.4 488.5,316.1 487.0,313.0 485.5,310.1 484.0,307.5 482.5,305.0 481.0,302.6 479.5,300.2 478.0,298.0 476.5,296.0 475.0,294.1 473.5,292.4 472.0,290.9 470.5,289.5 469.0,288.3 467.5,287.2 466.0,286.1 464.5,285.1 463.0,284.2 461.5,283.3 460.0,282.5 458.5,281.8 457.0,281.1 455.5,280.6 454.0,280.2 452.5,279.8 451.0,279.5 449.5,279.3 448.0,279.2 446.5,279.2 445.0,279.3 443.5,279.5 442.0,279.8 440.5,280.0 439.0,280.4 437.5,280.7 436.0,281.2 434.5,281.7 433.0,282.3 431.5,282.9 430.0,283.6 428.5,284.4 427.0,285.1 425.5,285.8 424.0,286.6 422.5,287.3 421.0,288.0 419.5,288.6 418.0,289.2 416.5,289.8 415.0,290.4 413.5,290.9 412.0,291.3 410.5,291.7 409.0,292.0 407.5,292.3 406.0,292.5 404.5,292.6 403.0,292.7 401.5,292.8 400.0,292.8 398.5,292.8 397.0,292.7 395.5,292.6 394.0,292.4 392.5,292.1 391.0,291.8 389.5,291.5 388.0,291.1 386.5,290.8 385.0,290.3 383.5,289.9 382.0,289.4 380.5,288.9 379.0,288.4 377.5,287.9 376.0,287.4 374.5,286.8 373.0,286.3 371.5,285.8 370.0,285.3 368.5,284.9 367.0,284.5 365.5,284.1 364.0,283.8 362.5,283.5 361.0,283.2 359.5,282.9 358.0,282.6 356.5,282.4 355.0,282.2 353.5,282.0 352.0,281.9 350.5,281.7 349.0,281.7 347.5,281.6 346.0,281.6 344.5,281.5 343.0,281.6 341.5,281.7 340.0,281.8 338.5,282.0 337.0,282.3 335.5,282.7 334.0,283.1 332.5,283.6 331.0,284.2 329.5,285.1 328.0,286.1 326.5,287.3 325.0,288.6 323.5,290.0 322.0,291.5 320.5,293.0 319.0,294.5 317.5,296.0 316.0,297.7 314.5,299.4 313.0,301.2 311.5,303.0 310.0,304.9 308.5,306.9 307.0,308.8 305.5,310.8 304.0,312.9 302.5,314.8 301.0,316.6 299.5,318.2 298.0,319.8 296.5,321.3 295.0,322.8 293.5,324.5 292.0,326.3 290.5,328.4 289.0,330.5 287.5,332.8 286.0,335.0 284.5,337.2 283.0,339.3 281.5,341.4 280.0,343.6 278.5,345.7 277.0,348.0 275.5,350.3 274.0,352.8 272.5,355.3 271.0,357.8 269.5,360.2 268.0,362.7 266.5,365.0 265.0,367.4 263.5,369.8 262.0,372.1 260.5,374.3 259.0,376.3 257.5,378.2 256.0,380.0 254.5,381.8 253.0,383.6 251.5,385.6 250.0,387.6 248.5,389.5 247.0,391.3 245.5,393.0 244.0,394.6 242.5,396.0 241.0,397.3 239.5,398.6 238.0,399.8 236.5,401.0 235.0,402.2 233.5,403.4 232.0,404.7 230.5,406.0 229.0,407.4 227.5,408.8 226.0,410.2 224.5,411.5 223.0,412.8 221.5,414.0 220.0,415.1 218.5,416.2 217.0,417.2 215.5,418.2 214.0,419.1 212.5,419.9 211.0,420.7 209.5,421.4 208.0,422.1 206.5,422.7 205.0,423.3 203.5,423.8 202.0,424.3 200.5,424.7 199.0,425.1 197.5,425.5 196.0,425.8 194.5,426.1 193.0,426.4 191.5,426.7 190.0,426.9 188.5,427.1 187.0,427.3 185.5,427.5 184.0,427.6 182.5,427.7 181.0,427.8 179.5,427.9 178.0,428.0 176.5,428.0 175.0,428.1 173.5,428.1 172.0,428.1 170.5,428.2 169.0,428.2 167.5,428.3 166.0,428.3 164.5,428.4 163.0,428.4 161.5,428.5 160.0,428.5 158.5,428.6 157.0,428.6 155.5,428.7 154.0,428.7 152.5,428.7 151.0,428.8 149.5,428.8 148.0,428.8 146.5,428.8 145.0,428.9 143.5,428.9 142.0,428.9 140.5,428.9 139.0,429.0 137.5,429.0 136.0,429.0 134.5,429.0 133.0,429.0 131.5,429.0 130.0,429.0 128.5,429.0 127.0,429.0 125.5,429.0 124.0,429.0 122.5,429.0 121.0,429.0 119.5,429.0 118.0,429.0 116.5,429.0 115.0,429.0 113.5,429.0 112.0,429.0 110.5,429.0 109.0,429.0 107.5,429.0 106.0,429.0 104.5,429.0 103.0,429.0" fill="#4c72b0" fill-opacity="0.15" stroke="#4c72b0" stroke-opacity="0.15" stroke-width="1.4" stroke-linejoin="round"/>
<path d="M103.07 429.00H1133.0" stroke="#000000" stroke-width="2.1" fill="none"/>
<polyline points="103.0,429.0 104.5,429.0 106.0,429.0 107.5,429.0 109.0,429.0 110.5,429.0 112.0,429.0 113.5,429.0 115.0,429.0 116.5,429.0 118.0,429.0 119.5,429.0 121.0,429.0 122.5,428.9 124.0,428.9 125.5,428.9 127.0,428.9 128.5,428.9 130.0,428.9 131.5,428.9 133.0,428.9 134.5,428.8 136.0,428.8 137.5,428.8 139.0,428.7 140.5,428.7 142.0,428.6 143.5,428.6 145.0,428.5 146.5,428.4 148.0,428.4 149.5,428.3 151.0,428.3 152.5,428.2 154.0,428.1 155.5,428.0 157.0,427.9 158.5,427.8 160.0,427.7 161.5,427.6 163.0,427.5 164.5,427.4 166.0,427.3 167.5,427.1 169.0,427.0 170.5,426.8 172.0,426.7 173.5,426.5 175.0,426.3 176.5,426.1 178.0,425.8 179.5,425.5 181.0,425.2 182.5,424.8 184.0,424.4 185.5,424.0 187.0,423.6 188.5,423.2 190.0,422.7 191.5,422.2 193.0,421.7 194.5,421.2 196.0,420.6 197.5,420.0 199.0,419.4 200.5,418.8 202.0,418.2 203.5,417.5 205.0,416.8 206.5,416.1 208.0,415.4 209.5,414.6 211.0,413.8 212.5,413.0 214.0,412.2 215.5,411.3 217.0,410.3 218.5,409.3 220.0,408.2 221.5,407.0 223.0,405.8 224.5,404.5 226.0,403.1 227.5,401.7 229.0,400.3 230.5,398.9 232.0,397.4 233.5,395.9 235.0,394.3 236.5,392.7 238.0,391.1 239.5,389.4 241.0,387.6 242.5,385.8 244.0,383.9 245.5,382.0 247.0,379.9 248.5,377.7 250.0,375.5 251.5,373.1 253.0,370.8 254.5,368.6 256.0,366.3 257.5,364.1 259.0,361.8 260.5,359.4 262.0,356.9 263.5,354.3 265.0,351.8 266.5,349.3 268.0,346.9 269.5,344.4 271.0,341.9 272.5,339.3 274.0,336.7 275.5,334.2 277.0,331.7 278.5,329.2 280.0,326.7 281.5,324.3 283.0,321.9 284.5,319.5 286.0,317.2 287.5,314.9 289.0,312.6 290.5,310.3 292.0,308.1 293.5,305.9 295.0,303.8 296.5,301.7 298.0,299.7 299.5,297.8 301.0,295.8 302.5,293.7 304.0,291.6 305.5,289.4 307.0,287.3 308.5,285.3 310.0,283.4 311.5,281.5 313.0,279.8 314.5,278.1 316.0,276.5 317.5,274.9 319.0,273.5 320.5,272.1 322.0,270.7 323.5,269.4 325.0,268.2 326.5,267.0 328.0,266.1 329.5,265.3 331.0,264.6 332.5,264.0 334.0,263.5 335.5,263.1 337.0,262.6 338.5,262.3 340.0,261.9 341.5,261.6 343.0,261.3 344.5,261.1 346.0,260.9 347.5,260.7 349.0,260.5 350.5,260.3 352.0,260.2 353.5,260.1 355.0,260.0 356.5,260.0 358.0,260.0 359.5,260.1 361.0,260.1 362.5,260.2 364.0,260.2 365.5,260.3 367.0,260.4 368.5,260.5 370.0,260.7 371.5,260.9 373.0,261.0 374.5,261.2 376.0,261.4 377.5,261.5 379.0,261.7 380.5,261.8 382.0,262.0 383.5,262.1 385.0,262.2 386.5,262.4 388.0,262.5 389.5,262.6 391.0,262.7 392.5,262.8 394.0,262.8 395.5,262.9 397.0,262.9 398.5,262.9 400.0,262.8 401.5,262.8 403.0,262.7 404.5,262.7 406.0,262.6 407.5,262.5 409.0,262.4 410.5,262.3 412.0,262.1 413.5,261.9 415.0,261.7 416.5,261.5 418.0,261.3 419.5,261.2 421.0,261.0 422.5,260.8 424.0,260.6 425.5,260.4 427.0,260.2 428.5,260.0 430.0,259.7 431.5,259.5 433.0,259.3 434.5,259.1 436.0,258.8 437.5,258.6 439.0,258.4 440.5,258.2 442.0,258.0 443.5,257.8 445.0,257.7 446.5,257.6 448.0,257.6 449.5,257.6 451.0,257.8 452.5,258.0 454.0,258.3 455.5,258.7 457.0,259.1 458.5,259.6 460.0,260.2 461.5,260.8 463.0,261.5 464.5,262.3 466.0,263.2 467.5,264.2 469.0,265.3 470.5,266.5 472.0,267.9 473.5,269.4 475.0,271.1 476.5,272.9 478.0,274.8 479.5,276.9 481.0,279.2 482.5,281.6 484.0,284.1 485.5,286.8 487.0,289.6 488.5,292.6 490.0,295.8 491.5,299.2 493.0,302.7 494.5,306.3 496.0,309.8 497.5,313.3 499.0,316.7 500.5,319.9 502.0,323.2 503.5,326.5 505.0,330.0 506.5,333.8 508.0,337.7 509.5,341.9 511.0,346.2 512.5,350.6 514.0,355.1 515.5,359.6 517.0,364.3 518.5,369.1 520.0,374.0 521.5,378.8 523.0,383.5 524.5,388.4 526.0,393.4 527.5,398.5 529.0,403.3 530.5,408.0 532.0,412.6 533.5,417.3 535.0,421.9 536.5,426.5 538.0,430.8 539.5,434.9 541.0,438.9 542.5,442.9 544.0,446.8 545.5,450.6 547.0,454.2 548.5,457.7 550.0,461.0 551.5,464.2 553.0,467.3 554.5,470.2 556.0,472.9 557.5,475.5 559.0,477.8 560.5,479.9 562.0,482.0 563.5,483.9 565.0,485.8 566.5,487.6 568.0,489.5 569.5,491.4 571.0,493.2 572.5,494.9 574.0,496.5 575.5,497.9 577.0,499.2 578.5,500.4 580.0,501.4 581.5,502.3 583.0,503.1 584.5,503.8 586.0,504.5 587.5,505.0 589.0,505.5 590.5,506.0 592.0,506.4 593.5,506.7 595.0,506.9 596.5,507.2 598.0,507.4 599.5,507.5 601.0,507.7 602.5,507.8 604.0,507.9 605.5,507.9 607.0,508.0 608.5,508.0 610.0,507.9 611.5,507.8 613.0,507.7 614.5,507.5 616.0,507.4 617.5,507.2 619.0,507.0 620.5,506.7 622.0,506.5 623.5,506.2 625.0,505.9 626.5,505.6 628.0,505.2 629.5,504.9 631.0,504.5 632.5,504.1 634.0,503.7 635.5,503.3 637.0,502.9 638.5,502.5 640.0,502.0 641.5,501.6 643.0,501.2 644.5,500.9 646.0,500.6 647.5,500.2 649.0,500.0 650.5,499.8 652.0,499.7 653.5,499.7 655.0,499.8 656.5,500.0 658.0,500.2 659.5,500.4 661.0,500.7 662.5,500.9 664.0,501.1 665.5,501.4 667.0,501.6 668.5,501.9 670.0,502.1 671.5,502.2 673.0,502.4 674.5,502.4 676.0,502.4 677.5,502.3 679.0,502.2 680.5,502.0 682.0,501.7 683.5,501.3 685.0,500.8 686.5,500.2 688.0,499.4 689.5,498.5 691.0,497.4 692.5,496.1 694.0,494.7 695.5,493.2 697.0,491.7 698.5,490.0 700.0,488.3 701.5,486.6 703.0,484.7 704.5,482.8 706.0,480.9 707.5,478.9 709.0,476.9 710.5,474.8 712.0,472.5 713.5,470.0 715.0,467.4 716.5,464.7 718.0,461.9 719.5,459.1 721.0,456.2 722.5,453.4 724.0,450.6 725.5,447.7 727.0,444.8 728.5,441.8 730.0,438.7 731.5,435.6 733.0,432.4 734.5,429.2 736.0,426.2 737.5,423.1 739.0,420.0 740.5,416.9 742.0,413.7 743.5,410.6 745.0,407.5 746.5,404.5 748.0,401.5 749.5,398.3 751.0,394.9 752.5,391.3 754.0,387.5 755.5,383.5 757.0,379.6 758.5,376.1 760.0,372.7 761.5,369.4 763.0,366.0 764.5,362.6 766.0,359.4 767.5,356.2 769.0,353.2 770.5,350.2 772.0,347.4 773.5,344.7 775.0,342.1 776.5,339.7 778.0,337.3 779.5,335.1 781.0,332.9 782.5,330.7 784.0,328.7 785.5,326.6 787.0,324.7 788.5,322.8 790.0,320.9 791.5,319.1 793.0,317.4 794.5,315.7 796.0,314.0 797.5,312.4 799.0,310.8 800.5,309.3 802.0,307.7 803.5,306.1 805.0,304.5 806.5,302.9 808.0,301.5 809.5,300.2 811.0,299.0 812.5,297.8 814.0,296.7 815.5,295.7 817.0,294.7 818.5,293.7 820.0,292.8 821.5,291.9 823.0,291.1 824.5,290.3 826.0,289.5 827.5,288.8 829.0,288.1 830.5,287.4 832.0,286.8 833.5,286.3 835.0,285.8 836.5,285.3 838.0,284.9 839.5,284.6 841.0,284.3 842.5,284.1 844.0,283.9 845.5,283.7 847.0,283.6 848.5,283.5 850.0,283.4 851.5,283.5 853.0,283.5 854.5,283.7 856.0,284.0 857.5,284.5 859.0,285.1 860.5,285.9 862.0,286.7 863.5,287.6 865.0,288.6 866.5,289.6 868.0,290.7 869.5,291.8 871.0,292.9 872.5,294.2 874.0,295.5 875.5,296.8 877.0,298.2 878.5,299.7 880.0,301.2 881.5,302.8 883.0,304.4 884.5,306.1 886.0,307.8 887.5,309.6 889.0,311.5 890.5,313.5 892.0,315.5 893.5,317.5 895.0,319.5 896.5,321.4 898.0,323.3 899.5,325.0 901.0,326.8 902.5,328.7 904.0,330.6 905.5,332.5 907.0,334.4 908.5,336.3 910.0,338.2 911.5,340.1 913.0,341.9 914.5,343.8 916.0,345.6 917.5,347.4 919.0,349.1 920.5,350.9 922.0,352.5 923.5,354.1 925.0,355.7 926.5,357.2 928.0,358.6 929.5,360.1 931.0,361.6 932.5,363.1 934.0,364.7 935.5,366.2 937.0,367.6 938.5,369.0 940.0,370.3 941.5,371.5 943.0,372.7 944.5,374.0 946.0,375.3 947.5,376.6 949.0,377.9 950.5,379.2 952.0,380.5 953.5,381.7 955.0,383.0 956.5,384.2 958.0,385.4 959.5,386.6 961.0,387.7 962.5,388.8 964.0,389.9 965.5,390.9 967.0,391.8 968.5,392.7 970.0,393.6 971.5,394.4 973.0,395.3 974.5,396.2 976.0,397.1 977.5,398.0 979.0,398.8 980.5,399.7 982.0,400.5 983.5,401.3 985.0,402.1 986.5,402.9 988.0,403.7 989.5,404.4 991.0,405.2 992.5,406.0 994.0,406.8 995.5,407.5 997.0,408.3 998.5,409.0 1000.0,409.7 1001.5,410.4 1003.0,411.0 1004.5,411.7 1006.0,412.3 1007.5,412.9 1009.0,413.5 1010.5,414.0 1012.0,414.6 1013.5,415.1 1015.0,415.6 1016.5,416.1 1018.0,416.6 1019.5,417.1 1021.0,417.5 1022.5,417.9 1024.0,418.3 1025.5,418.6 1027.0,419.0 1028.5,419.4 1030.0,419.7 1031.5,420.1 1033.0,420.5 1034.5,420.9 1036.0,421.2 1037.5,421.5 1039.0,421.8 1040.5,422.1 1042.0,422.4 1043.5,422.7 1045.0,423.0 1046.5,423.3 1048.0,423.6 1049.5,423.9 1051.0,424.2 1052.5,424.4 1054.0,424.7 1055.5,424.9 1057.0,425.2 1058.5,425.4 1060.0,425.6 1061.5,425.8 1063.0,426.0 1064.5,426.2 1066.0,426.4 1067.5,426.6 1069.0,426.8 1070.5,427.0 1072.0,427.2 1073.5,427.3 1075.0,427.5 1076.5,427.6 1078.0,427.7 1079.5,427.9 1081.0,428.0 1082.5,428.1 1084.0,428.2 1085.5,428.4 1087.0,428.5 1088.5,428.6 1090.0,428.7 1091.5,428.7 1093.0,428.8 1094.5,428.9 1096.0,428.9 1097.5,429.0 1099.0,429.0 1100.5,429.1 1102.0,429.1 1103.5,429.1 1105.0,429.1 1106.5,429.1 1108.0,429.1 1109.5,429.1 1111.0,429.1 1112.5,429.1 1114.0,429.1 1115.5,429.1 1117.0,429.1 1118.5,429.1 1120.0,429.1 1121.5,429.1 1123.0,429.1 1124.5,429.1 1126.0,429.1 1127.5,429.0 1129.0,429.0 1130.5,429.0 1133.0,429.0" fill="none" stroke="#4c72b0" stroke-width="2.1" stroke-dasharray="7.7 3.3" stroke-linejoin="round"/>
<polyline points="103.0,429.0 104.0,429.0 105.0,429.0 106.0,429.0 107.0,429.0 108.0,429.0 109.0,429.0 110.0,428.9 111.0,428.9 112.0,428.9 113.0,428.9 114.0,428.8 115.0,428.8 116.0,428.8 117.0,428.8 118.0,428.7 119.0,428.7 120.0,428.6 121.0,428.6 122.0,428.6 123.0,428.5 124.0,428.5 125.0,428.4 126.0,428.4 127.0,428.3 128.0,428.3 129.0,428.2 130.0,428.2 131.0,428.1 132.0,428.1 133.0,428.0 134.0,427.9 135.0,427.8 136.0,427.7 137.0,427.5 138.0,427.4 139.0,427.2 140.0,427.1 141.0,426.9 142.0,426.8 143.0,426.6 144.0,426.5 145.0,426.3 146.0,426.2 147.0,426.0 148.0,425.9 149.0,425.7 150.0,425.6 151.0,425.5 152.0,425.3 153.0,425.2 154.0,425.1 155.0,425.0 156.0,424.8 157.0,424.7 158.0,424.6 159.0,424.4 160.0,424.3 161.0,424.2 162.0,424.1 163.0,423.9 164.0,423.8 165.0,423.7 166.0,423.6 167.0,423.4 168.0,423.3 169.0,423.2 170.0,423.1 171.0,422.9 172.0,422.8 173.0,422.7 174.0,422.6 175.0,422.5 176.0,422.4 177.0,422.3 178.0,422.2 179.0,422.2 180.0,422.1 181.0,422.0 182.0,421.9 183.0,421.9 184.0,421.8 185.0,421.7 186.0,421.6 187.0,421.5 188.0,421.3 189.0,421.2 190.0,421.1 191.0,421.0 192.0,421.0 193.0,421.0 194.0,421.1 195.0,421.1 196.0,421.3 197.0,421.4 198.0,421.5 199.0,421.7 200.0,421.9 201.0,422.2 202.0,422.6 203.0,422.9 204.0,423.2 205.0,423.5 206.0,423.7 207.0,423.9 208.0,424.1 209.0,424.3 210.0,424.4 211.0,424.5 212.0,424.5 213.0,424.4 214.0,424.3 215.0,424.2 216.0,424.0 217.0,423.8 218.0,423.6 219.0,423.4 220.0,423.0 221.0,422.6 222.0,422.1 223.0,421.6 224.0,421.1 225.0,420.6 226.0,420.1 227.0,419.6 228.0,419.0 229.0,418.5 230.0,417.8 231.0,417.1 232.0,416.3 233.0,415.3 234.0,414.1 235.0,412.9 236.0,411.6 237.0,410.2 238.0,408.7 239.0,407.1 240.0,405.4 241.0,403.8 242.0,402.1 243.0,400.4 244.0,398.8 245.0,397.2 246.0,395.5 247.0,393.9 248.0,392.2 249.0,390.5 250.0,388.8 251.0,387.0 252.0,385.1 253.0,383.3 254.0,381.6 255.0,379.9 256.0,378.1 257.0,376.4 258.0,374.6 259.0,372.8 260.0,371.0 261.0,369.1 262.0,367.3 263.0,365.4 264.0,363.5 265.0,361.6 266.0,359.7 267.0,357.8 268.0,355.9 269.0,353.9 270.0,352.0 271.0,350.1 272.0,348.2 273.0,346.3 274.0,344.4 275.0,342.5 276.0,340.6 277.0,338.7 278.0,336.8 279.0,335.1 280.0,333.5 281.0,332.0 282.0,330.5 283.0,329.1 284.0,327.7 285.0,326.5 286.0,325.3 287.0,324.2 288.0,323.2 289.0,322.2 290.0,321.4 291.0,320.5 292.0,319.6 293.0,318.8 294.0,317.9 295.0,316.9 296.0,315.9 297.0,314.8 298.0,313.7 299.0,312.6 300.0,311.5 301.0,310.4 302.0,309.3 303.0,308.2 304.0,307.1 305.0,305.9 306.0,304.8 307.0,303.7 308.0,302.7 309.0,301.7 310.0,300.6 311.0,299.6 312.0,298.7 313.0,297.9 314.0,297.4 315.0,297.0 316.0,296.7 317.0,296.4 318.0,296.1 319.0,295.9 320.0,295.6 321.0,295.3 322.0,295.0 323.0,294.7 324.0,294.5 325.0,294.2 326.0,293.9 327.0,293.7 328.0,293.4 329.0,293.1 330.0,292.8 331.0,292.6 332.0,292.3 333.0,292.1 334.0,291.8 335.0,291.6 336.0,291.4 337.0,291.2 338.0,291.0 339.0,290.7 340.0,290.4 341.0,290.0 342.0,289.6 343.0,289.1 344.0,288.2 345.0,287.0 346.0,286.0 347.0,284.9 348.0,283.8 349.0,282.7 350.0,281.5 351.0,280.3 352.0,279.1 353.0,277.8 354.0,276.5 355.0,275.2 356.0,273.9 357.0,272.6 358.0,271.3 359.0,270.0 360.0,268.8 361.0,267.6 362.0,266.4 363.0,265.2 364.0,264.1 365.0,263.0 366.0,261.8 367.0,260.6 368.0,259.4 369.0,258.1 370.0,256.8 371.0,255.5 372.0,254.2 373.0,252.8 374.0,251.4 375.0,250.0 376.0,248.6 377.0,247.1 378.0,245.5 379.0,244.0 380.0,242.5 381.0,241.0 382.0,239.4 383.0,237.9 384.0,236.4 385.0,235.0 386.0,233.6 387.0,232.2 388.0,231.0 389.0,230.1 390.0,229.3 391.0,228.6 392.0,228.0 393.0,227.5 394.0,227.1 395.0,226.8 396.0,226.6 397.0,226.3 398.0,226.1 399.0,225.9 400.0,225.6 401.0,225.2 402.0,224.8 403.0,224.3 404.0,223.7 405.0,223.2 406.0,222.7 407.0,222.3 408.0,221.8 409.0,221.4 410.0,221.1 411.0,220.7 412.0,220.4 413.0,220.1 414.0,219.9 415.0,219.7 416.0,219.5 417.0,219.4 418.0,219.2 419.0,219.1 420.0,219.1 421.0,219.0 422.0,219.0 423.0,218.9 424.0,218.9 425.0,218.9 426.0,219.1 427.0,219.3 428.0,219.6 429.0,219.9 430.0,220.2 431.0,220.8 432.0,221.4 433.0,222.1 434.0,222.9 435.0,223.7 436.0,224.5 437.0,225.4 438.0,226.3 439.0,227.2 440.0,228.2 441.0,229.2 442.0,230.3 443.0,231.4 444.0,232.5 445.0,233.7 446.0,234.8 447.0,236.0 448.0,237.2 449.0,238.4 450.0,239.7 451.0,241.0 452.0,242.3 453.0,243.7 454.0,245.0 455.0,246.3 456.0,247.6 457.0,248.9 458.0,250.1 459.0,251.4 460.0,252.7 461.0,254.0 462.0,255.4 463.0,256.7 464.0,258.1 465.0,259.5 466.0,261.0 467.0,262.6 468.0,264.2 469.0,265.9 470.0,267.7 471.0,269.5 472.0,271.4 473.0,273.3 474.0,275.4 475.0,277.4 476.0,279.5 477.0,281.6 478.0,283.8 479.0,286.0 480.0,288.2 481.0,290.5 482.0,292.8 483.0,295.2 484.0,297.6 485.0,300.1 486.0,302.5 487.0,304.9 488.0,307.4 489.0,309.9 490.0,312.3 491.0,314.7 492.0,316.9 493.0,319.1 494.0,321.5 495.0,324.2 496.0,327.3 497.0,330.5 498.0,333.5 499.0,336.3 500.0,339.1 501.0,341.8 502.0,344.5 503.0,347.2 504.0,349.9 505.0,352.6 506.0,355.2 507.0,357.9 508.0,360.5 509.0,363.2 510.0,365.8 511.0,368.5 512.0,371.1 513.0,373.8 514.0,376.4 515.0,379.1 516.0,381.7 517.0,384.4 518.0,387.0 519.0,389.8 520.0,392.8 521.0,396.2 522.0,399.5 523.0,402.6 524.0,405.7 525.0,408.7 526.0,411.7 527.0,414.6 528.0,417.5 529.0,420.3 530.0,423.1 531.0,425.9 532.0,428.8 533.0,431.7 534.0,434.7 535.0,437.7 536.0,440.6 537.0,443.3 538.0,445.8 539.0,448.3 540.0,450.8 541.0,453.2 542.0,455.5 543.0,457.8 544.0,460.1 545.0,462.3 546.0,464.5 547.0,466.5 548.0,468.5 549.0,470.5 550.0,472.6 551.0,474.6 552.0,476.7 553.0,478.6 554.0,480.4 555.0,482.2 556.0,483.9 557.0,485.6 558.0,487.2 559.0,488.6 560.0,490.0 561.0,491.3 562.0,492.4 563.0,493.5 564.0,494.6 565.0,495.6 566.0,496.6 567.0,497.7 568.0,498.7 569.0,499.7 570.0,500.7 571.0,501.7 572.0,502.6 573.0,503.6 574.0,504.5 575.0,505.4 576.0,506.2 577.0,507.0 578.0,507.7 579.0,508.3 580.0,508.9 581.0,509.5 582.0,510.0 583.0,510.4 584.0,510.7 585.0,510.9 586.0,511.0 587.0,511.2 588.0,511.3 589.0,511.5 590.0,511.6 591.0,511.8 592.0,511.9 593.0,512.0 594.0,512.2 595.0,512.3 596.0,512.5 597.0,512.6 598.0,512.8 599.0,512.9 600.0,513.0 601.0,513.1 602.0,513.1 603.0,513.0 604.0,512.9 605.0,512.8 606.0,512.7 607.0,512.6 608.0,512.4 609.0,512.3 610.0,512.1 611.0,511.9 612.0,511.7 613.0,511.4 614.0,511.2 615.0,510.9 616.0,510.5 617.0,510.1 618.0,509.7 619.0,509.3 620.0,508.8 621.0,508.3 622.0,507.8 623.0,507.3 624.0,507.0 625.0,506.8 626.0,506.5 627.0,506.3 628.0,506.1 629.0,505.9 630.0,505.9 631.0,506.0 632.0,506.3 633.0,506.7 634.0,507.1 635.0,507.6 636.0,508.0 637.0,508.4 638.0,508.8 639.0,509.2 640.0,509.6 641.0,510.0 642.0,510.4 643.0,510.8 644.0,511.2 645.0,511.6 646.0,512.0 647.0,512.4 648.0,512.8 649.0,513.2 650.0,513.5 651.0,513.9 652.0,514.2 653.0,514.5 654.0,514.8 655.0,515.2 656.0,515.5 657.0,515.9 658.0,516.3 659.0,516.7 660.0,517.1 661.0,517.5 662.0,517.9 663.0,518.3 664.0,518.7 665.0,519.1 666.0,519.5 667.0,519.9 668.0,520.2 669.0,520.4 670.0,520.4 671.0,520.5 672.0,520.5 673.0,520.5 674.0,520.6 675.0,520.6 676.0,520.7 677.0,520.7 678.0,520.8 679.0,520.9 680.0,521.1 681.0,521.2 682.0,521.5 683.0,522.0 684.0,522.6 685.0,523.2 686.0,523.7 687.0,523.9 688.0,524.1 689.0,524.3 690.0,524.4 691.0,524.5 692.0,524.6 693.0,524.5 694.0,523.9 695.0,522.8 696.0,521.7 697.0,520.7 698.0,519.6 699.0,518.4 700.0,517.2 701.0,515.9 702.0,514.6 703.0,513.3 704.0,511.9 705.0,510.5 706.0,509.1 707.0,507.7 708.0,506.4 709.0,505.0 710.0,503.7 711.0,502.3 712.0,500.8 713.0,499.4 714.0,497.9 715.0,496.3 716.0,494.8 717.0,493.2 718.0,491.6 719.0,490.0 720.0,488.4 721.0,486.7 722.0,484.9 723.0,483.2 724.0,481.3 725.0,479.4 726.0,477.4 727.0,475.3 728.0,473.1 729.0,470.9 730.0,468.6 731.0,466.2 732.0,463.7 733.0,461.2 734.0,458.7 735.0,456.2 736.0,453.9 737.0,451.7 738.0,449.5 739.0,447.3 740.0,445.0 741.0,442.7 742.0,440.3 743.0,438.0 744.0,435.7 745.0,433.5 746.0,431.3 747.0,429.2 748.0,427.3 749.0,425.4 750.0,423.6 751.0,421.7 752.0,419.8 753.0,417.8 754.0,415.9 755.0,413.8 756.0,411.8 757.0,409.6 758.0,407.4 759.0,405.2 760.0,402.9 761.0,400.6 762.0,398.3 763.0,396.0 764.0,393.7 765.0,391.3 766.0,388.7 767.0,386.0 768.0,383.5 769.0,381.4 770.0,379.5 771.0,377.7 772.0,375.9 773.0,374.1 774.0,372.4 775.0,370.7 776.0,369.0 777.0,367.2 778.0,365.3 779.0,363.2 780.0,361.1 781.0,358.9 782.0,356.7 783.0,354.5 784.0,352.3 785.0,350.1 786.0,348.0 787.0,346.0 788.0,344.1 789.0,342.3 790.0,340.6 791.0,339.1 792.0,337.8 793.0,336.7 794.0,335.7 795.0,334.8 796.0,334.0 797.0,333.2 798.0,332.4 799.0,331.7 800.0,331.1 801.0,330.4 802.0,329.8 803.0,329.0 804.0,328.4 805.0,327.7 806.0,326.9 807.0,326.1 808.0,325.0 809.0,323.7 810.0,322.1 811.0,320.4 812.0,318.7 813.0,317.0 814.0,315.2 815.0,313.4 816.0,311.6 817.0,309.7 818.0,307.9 819.0,306.0 820.0,304.1 821.0,302.2 822.0,300.3 823.0,298.5 824.0,296.7 825.0,295.0 826.0,293.4 827.0,291.8 828.0,290.3 829.0,288.9 830.0,287.4 831.0,286.0 832.0,284.5 833.0,283.1 834.0,281.7 835.0,280.3 836.0,278.9 837.0,277.6 838.0,276.3 839.0,275.0 840.0,273.8 841.0,272.5 842.0,271.4 843.0,270.2 844.0,269.1 845.0,268.0 846.0,267.0 847.0,265.9 848.0,265.0 849.0,264.2 850.0,263.5 851.0,262.8 852.0,262.2 853.0,261.6 854.0,261.1 855.0,260.7 856.0,260.4 857.0,260.0 858.0,259.7 859.0,259.4 860.0,259.1 861.0,258.8 862.0,258.5 863.0,258.2 864.0,258.0 865.0,257.7 866.0,257.5 867.0,257.4 868.0,257.2 869.0,257.0 870.0,256.9 871.0,256.9 872.0,257.0 873.0,257.1 874.0,257.3 875.0,257.5 876.0,257.8 877.0,258.2 878.0,258.8 879.0,259.4 880.0,260.0 881.0,260.7 882.0,261.5 883.0,262.4 884.0,263.4 885.0,264.4 886.0,265.4 887.0,266.6 888.0,267.9 889.0,269.7 890.0,272.0 891.0,274.4 892.0,276.7 893.0,279.1 894.0,281.7 895.0,284.5 896.0,288.0 897.0,292.0 898.0,295.7 899.0,299.1 900.0,302.3 901.0,305.6 902.0,308.9 903.0,312.1 904.0,315.4 905.0,318.8 906.0,322.3 907.0,325.9 908.0,329.3 909.0,332.6 910.0,335.9 911.0,339.2 912.0,342.6 913.0,346.1 914.0,349.6 915.0,353.0 916.0,356.3 917.0,359.6 918.0,362.7 919.0,365.7 920.0,368.5 921.0,371.2 922.0,373.8 923.0,376.3 924.0,378.7 925.0,381.1 926.0,383.4 927.0,385.6 928.0,387.8 929.0,390.0 930.0,392.1 931.0,394.1 932.0,396.0 933.0,397.8 934.0,399.5 935.0,401.2 936.0,402.7 937.0,404.2 938.0,405.4 939.0,406.5 940.0,407.4 941.0,408.1 942.0,408.8 943.0,409.5 944.0,410.2 945.0,410.8 946.0,411.4 947.0,412.0 948.0,412.6 949.0,413.2 950.0,413.8 951.0,414.3 952.0,415.0 953.0,415.6 954.0,416.1 955.0,416.6 956.0,416.9 957.0,417.0 958.0,417.1 959.0,417.2 960.0,417.2 961.0,417.2 962.0,417.2 963.0,417.0 964.0,416.7 965.0,416.4 966.0,416.1 967.0,415.8 968.0,415.4 969.0,414.9 970.0,414.5 971.0,414.1 972.0,413.7 973.0,413.3 974.0,413.0 975.0,412.6 976.0,412.3 977.0,412.0 978.0,411.8 979.0,411.6 980.0,411.4 981.0,411.2 982.0,411.1 983.0,411.0 984.0,410.9 985.0,410.8 986.0,410.6 987.0,410.5 988.0,410.3 989.0,410.2 990.0,410.0 991.0,409.8 992.0,409.6 993.0,409.4 994.0,409.1 995.0,408.9 996.0,408.6 997.0,408.4 998.0,408.1 999.0,408.0 1000.0,407.8 1001.0,407.7 1002.0,407.5 1003.0,407.4 1004.0,407.3 1005.0,407.3 1006.0,407.3 1007.0,407.3 1008.0,407.3 1009.0,407.4 1010.0,407.4 1011.0,407.5 1012.0,407.6 1013.0,407.7 1014.0,407.8 1015.0,408.0 1016.0,408.2 1017.0,408.4 1018.0,408.6 1019.0,408.9 1020.0,409.2 1021.0,409.4 1022.0,409.7 1023.0,410.0 1024.0,410.3 1025.0,410.7 1026.0,411.0 1027.0,411.3 1028.0,411.7 1029.0,412.0 1030.0,412.3 1031.0,412.7 1032.0,413.1 1033.0,413.4 1034.0,413.8 1035.0,414.2 1036.0,414.6 1037.0,415.0 1038.0,415.4 1039.0,415.8 1040.0,416.3 1041.0,416.8 1042.0,417.3 1043.0,417.8 1044.0,418.4 1045.0,418.9 1046.0,419.4 1047.0,419.9 1048.0,420.3 1049.0,420.8 1050.0,421.3 1051.0,421.7 1052.0,422.1 1053.0,422.5 1054.0,422.9 1055.0,423.3 1056.0,423.6 1057.0,423.9 1058.0,424.1 1059.0,424.2 1060.0,424.3 1061.0,424.4 1062.0,424.5 1063.0,424.6 1064.0,424.7 1065.0,424.8 1066.0,424.8 1067.0,424.9 1068.0,425.0 1069.0,425.1 1070.0,425.2 1071.0,425.3 1072.0,425.4 1073.0,425.5 1074.0,425.6 1075.0,425.7 1076.0,425.8 1077.0,425.9 1078.0,426.0 1079.0,426.1 1080.0,426.2 1081.0,426.4 1082.0,426.5 1083.0,426.6 1084.0,426.7 1085.0,426.8 1086.0,426.9 1087.0,427.0 1088.0,427.2 1089.0,427.3 1090.0,427.4 1091.0,427.5 1092.0,427.6 1093.0,427.7 1094.0,427.8 1095.0,427.9 1096.0,428.0 1097.0,428.1 1098.0,428.2 1099.0,428.2 1100.0,428.3 1101.0,428.4 1102.0,428.5 1103.0,428.5 1104.0,428.6 1105.0,428.7 1106.0,428.8 1107.0,428.8 1108.0,428.9 1109.0,429.0 1110.0,429.0 1111.0,429.0 1112.0,429.1 1113.0,429.1 1114.0,429.1 1115.0,429.1 1116.0,429.1 1117.0,429.2 1118.0,429.2 1119.0,429.2 1120.0,429.2 1121.0,429.2 1122.0,429.2 1123.0,429.2 1124.0,429.2 1125.0,429.2 1126.0,429.2 1127.0,429.2 1128.0,429.2 1129.0,429.2 1130.0,429.2 1131.0,429.2 1132.0,429.2 1133.0,429.2 1133.5,429.2" fill="none" stroke="#c44e52" stroke-width="2.1" stroke-linejoin="round" stroke-linecap="round"/>
</g>
<g opacity="0.999">
<text x="85.27" y="649.20" font-size="17.1" font-family="Liberation Serif, serif" fill="#262626" textLength="17.3" lengthAdjust="spacingAndGlyphs">−</text><text x="101.62" y="648.30" font-size="17.1" font-family="Liberation Serif, serif" fill="#262626" textLength="17.8" lengthAdjust="spacingAndGlyphs">90</text>
<text x="142.51" y="649.20" font-size="17.1" font-family="Liberation Serif, serif" fill="#262626" textLength="17.3" lengthAdjust="spacingAndGlyphs">−</text><text x="158.86" y="648.30" font-size="17.1" font-family="Liberation Serif, serif" fill="#262626" textLength="17.8" lengthAdjust="spacingAndGlyphs">80</text>
<text x="199.76" y="649.20" font-size="17.1" font-family="Liberation Serif, serif" fill="#262626" textLength="17.3" lengthAdjust="spacingAndGlyphs">−</text><text x="216.11" y="648.30" font-size="17.1" font-family="Liberation Serif, serif" fill="#262626" textLength="17.8" lengthAdjust="spacingAndGlyphs">70</text>
<text x="257.00" y="649.20" font-size="17.1" font-family="Liberation Serif, serif" fill="#262626" textLength="17.3" lengthAdjust="spacingAndGlyphs">−</text><text x="273.35" y="648.30" font-size="17.1" font-family="Liberation Serif, serif" fill="#262626" textLength="17.8" lengthAdjust="spacingAndGlyphs">60</text>
<text x="314.24" y="649.20" font-size="17.1" font-family="Liberation Serif, serif" fill="#262626" textLength="17.3" lengthAdjust="spacingAndGlyphs">−</text><text x="330.59" y="648.30" font-size="17.1" font-family="Liberation Serif, serif" fill="#262626" textLength="17.8" lengthAdjust="spacingAndGlyphs">50</text>
<text x="371.48" y="649.20" font-size="17.1" font-family="Liberation Serif, serif" fill="#262626" textLength="17.3" lengthAdjust="spacingAndGlyphs">−</text><text x="387.83" y="648.30" font-size="17.1" font-family="Liberation Serif, serif" fill="#262626" textLength="17.8" lengthAdjust="spacingAndGlyphs">40</text>
<text x="428.72" y="649.20" font-size="17.1" font-family="Liberation Serif, serif" fill="#262626" textLength="17.3" lengthAdjust="spacingAndGlyphs">−</text><text x="445.07" y="648.30" font-size="17.1" font-family="Liberation Serif, serif" fill="#262626" textLength="17.8" lengthAdjust="spacingAndGlyphs">30</text>
<text x="485.97" y="649.20" font-size="17.1" font-family="Liberation Serif, serif" fill="#262626" textLength="17.3" lengthAdjust="spacingAndGlyphs">−</text><text x="502.32" y="648.30" font-size="17.1" font-family="Liberation Serif, serif" fill="#262626" textLength="17.8" lengthAdjust="spacingAndGlyphs">20</text>
<text x="543.21" y="649.20" font-size="17.1" font-family="Liberation Serif, serif" fill="#262626" textLength="17.3" lengthAdjust="spacingAndGlyphs">−</text><text x="559.56" y="648.30" font-size="17.1" font-family="Liberation Serif, serif" fill="#262626" textLength="17.8" lengthAdjust="spacingAndGlyphs">10</text>
<text x="613.75" y="648.30" font-size="17.1" font-family="Liberation Serif, serif" fill="#262626" textLength="8.9" lengthAdjust="spacingAndGlyphs">0</text>
<text x="666.54" y="648.30" font-size="17.1" font-family="Liberation Serif, serif" fill="#262626" textLength="17.8" lengthAdjust="spacingAndGlyphs">10</text>
<text x="723.78" y="648.30" font-size="17.1" font-family="Liberation Serif, serif" fill="#262626" textLength="17.8" lengthAdjust="spacingAndGlyphs">20</text>
<text x="781.03" y="648.30" font-size="17.1" font-family="Liberation Serif, serif" fill="#262626" textLength="17.8" lengthAdjust="spacingAndGlyphs">30</text>
<text x="838.27" y="648.30" font-size="17.1" font-family="Liberation Serif, serif" fill="#262626" textLength="17.8" lengthAdjust="spacingAndGlyphs">40</text>
<text x="895.51" y="648.30" font-size="17.1" font-family="Liberation Serif, serif" fill="#262626" textLength="17.8" lengthAdjust="spacingAndGlyphs">50</text>
<text x="952.75" y="648.30" font-size="17.1" font-family="Liberation Serif, serif" fill="#262626" textLength="17.8" lengthAdjust="spacingAndGlyphs">60</text>
<text x="1009.99" y="648.30" font-size="17.1" font-family="Liberation Serif, serif" fill="#262626" textLength="17.8" lengthAdjust="spacingAndGlyphs">70</text>
<text x="1067.24" y="648.30" font-size="17.1" font-family="Liberation Serif, serif" fill="#262626" textLength="17.8" lengthAdjust="spacingAndGlyphs">80</text>
<text x="1124.48" y="648.30" font-size="17.1" font-family="Liberation Serif, serif" fill="#262626" textLength="17.8" lengthAdjust="spacingAndGlyphs">90</text>
<text x="65.15" y="46.80" font-size="17.1" font-family="Liberation Serif, serif" fill="#262626" textLength="22.7" lengthAdjust="spacingAndGlyphs">3.0</text>
<text x="65.15" y="111.45" font-size="17.1" font-family="Liberation Serif, serif" fill="#262626" textLength="22.7" lengthAdjust="spacingAndGlyphs">2.5</text>
<text x="65.15" y="176.10" font-size="17.1" font-family="Liberation Serif, serif" fill="#262626" textLength="22.7" lengthAdjust="spacingAndGlyphs">2.0</text>
<text x="65.15" y="240.75" font-size="17.1" font-family="Liberation Serif, serif" fill="#262626" textLength="22.7" lengthAdjust="spacingAndGlyphs">1.5</text>
<text x="65.15" y="305.40" font-size="17.1" font-family="Liberation Serif, serif" fill="#262626" textLength="22.7" lengthAdjust="spacingAndGlyphs">1.0</text>
<text x="65.15" y="370.05" font-size="17.1" font-family="Liberation Serif, serif" fill="#262626" textLength="22.7" lengthAdjust="spacingAndGlyphs">0.5</text>
<text x="65.15" y="434.70" font-size="17.1" font-family="Liberation Serif, serif" fill="#262626" textLength="22.7" lengthAdjust="spacingAndGlyphs">0.0</text>
<text x="48.80" y="500.25" font-size="17.1" font-family="Liberation Serif, serif" fill="#262626" textLength="17.3" lengthAdjust="spacingAndGlyphs">−</text><text x="65.15" y="499.35" font-size="17.1" font-family="Liberation Serif, serif" fill="#262626" textLength="22.7" lengthAdjust="spacingAndGlyphs">0.5</text>
<text x="48.80" y="564.90" font-size="17.1" font-family="Liberation Serif, serif" fill="#262626" textLength="17.3" lengthAdjust="spacingAndGlyphs">−</text><text x="65.15" y="564.00" font-size="17.1" font-family="Liberation Serif, serif" fill="#262626" textLength="22.7" lengthAdjust="spacingAndGlyphs">1.0</text>
<text x="48.80" y="629.55" font-size="17.1" font-family="Liberation Serif, serif" fill="#262626" textLength="17.3" lengthAdjust="spacingAndGlyphs">−</text><text x="65.15" y="628.65" font-size="17.1" font-family="Liberation Serif, serif" fill="#262626" textLength="22.7" lengthAdjust="spacingAndGlyphs">1.5</text>
<text x="102.9" y="37.0" font-size="15" font-family="Liberation Serif, serif" fill="#262626" textLength="32.8" lengthAdjust="spacingAndGlyphs">1e24</text>
<text x="367.80" y="32.90" font-size="23" font-family="Liberation Serif, serif" fill="#262626" textLength="51.10" lengthAdjust="spacingAndGlyphs">Earth</text><text x="426.00" y="32.90" font-size="23" font-family="Liberation Serif, serif" fill="#262626" textLength="71.60" lengthAdjust="spacingAndGlyphs">Relative</text><text x="504.70" y="32.90" font-size="23" font-family="Liberation Serif, serif" fill="#262626" textLength="48.00" lengthAdjust="spacingAndGlyphs">AAM</text><text x="559.60" y="32.90" font-size="23" font-family="Liberation Serif, serif" fill="#262626" textLength="21.00" lengthAdjust="spacingAndGlyphs">by</text><text x="587.00" y="32.90" font-size="23" font-family="Liberation Serif, serif" fill="#262626" textLength="75.90" lengthAdjust="spacingAndGlyphs">Latitude</text><text x="669.30" y="32.90" font-size="23" font-family="Liberation Serif, serif" fill="#262626" textLength="24.10" lengthAdjust="spacingAndGlyphs">for</text><text x="701.10" y="32.90" font-size="23" font-family="Liberation Serif, serif" fill="#262626" textLength="30.50" lengthAdjust="spacingAndGlyphs">Oct</text><text x="740.50" y="32.90" font-size="23" font-family="Liberation Serif, serif" fill="#262626" textLength="20.90" lengthAdjust="spacingAndGlyphs">18</text><text x="768.20" y="32.90" font-size="23" font-family="Liberation Serif, serif" fill="#262626" textLength="47.60" lengthAdjust="spacingAndGlyphs">0000</text><text x="823.80" y="32.90" font-size="23" font-family="Liberation Serif, serif" fill="#262626" textLength="43.50" lengthAdjust="spacingAndGlyphs">UTC</text>
<text x="618.3" y="674.5" font-size="19" font-family="DejaVu Sans, sans-serif" font-style="italic" fill="#262626" text-anchor="middle">ϕ</text>
<g transform="translate(36.3 414.2) rotate(-90)">
<text x="-1.00" y="0" font-size="19.5" font-family="DejaVu Sans, sans-serif" font-style="italic" fill="#262626">M</text>
<text x="15.90" y="3.5" font-size="13.65" font-family="DejaVu Sans, sans-serif" font-style="italic" fill="#262626">R</text>
<text x="35.60" y="0" font-size="19.5" font-family="DejaVu Sans, sans-serif" font-style="italic" fill="#262626">(</text>
<text x="44.10" y="0" font-size="19.5" font-family="DejaVu Sans, sans-serif" font-style="italic" fill="#262626">k</text>
<text x="54.80" y="0" font-size="19.5" font-family="DejaVu Sans, sans-serif" font-style="italic" fill="#262626">g</text>
<text x="70.50" y="0" font-size="19.5" font-family="DejaVu Sans, sans-serif" font-style="italic" fill="#262626">·</text>
<text x="82.80" y="0" font-size="19.5" font-family="DejaVu Sans, sans-serif" font-style="italic" fill="#262626">m</text>
<text x="101.10" y="-7.4" font-size="13.65" font-family="DejaVu Sans, sans-serif" font-style="italic" fill="#262626">2</text>
<text x="113.40" y="0" font-size="19.5" font-family="DejaVu Sans, sans-serif" font-style="italic" fill="#262626">·</text>
<text x="124.80" y="0" font-size="19.5" font-family="DejaVu Sans, sans-serif" font-style="italic" fill="#262626">s</text>
<text x="135.40" y="-7.4" font-size="13.65" font-family="DejaVu Sans, sans-serif" font-style="italic" fill="#262626">−</text>
<text x="146.60" y="-7.4" font-size="13.65" font-family="DejaVu Sans, sans-serif" font-style="italic" fill="#262626">1</text>
<text x="155.70" y="0" font-size="19.5" font-family="DejaVu Sans, sans-serif" font-style="italic" fill="#262626">)</text>
</g>
<rect x="924.6" y="50.6" width="200.9" height="81.3" rx="3" ry="3" fill="#eaeaf2" fill-opacity="0.8" stroke="#cccccc" stroke-opacity="0.8" stroke-width="1.3"/>
<path d="M930.9 62.9H964.9" stroke="#4c72b0" stroke-width="2.1" stroke-dasharray="7.5 3.9" fill="none"/>
<rect x="930.9" y="82.9" width="34" height="12.9" fill="#4c72b0" fill-opacity="0.15" stroke="#4c72b0" stroke-opacity="0.15" stroke-width="1.4"/>
<path d="M930.3 114.9H964.9" stroke="#c44e52" stroke-width="2.1" fill="none"/>
<text x="978.30" y="67.70" font-size="17.2" font-family="Liberation Serif, serif" fill="#262626" textLength="81.30" lengthAdjust="spacingAndGlyphs">1970-2010</text><text x="1065.30" y="67.70" font-size="17.2" font-family="Liberation Serif, serif" fill="#262626" textLength="38.00" lengthAdjust="spacingAndGlyphs">Mean</text>
<text x="977.0" y="97.7" font-size="25" font-family="DejaVu Sans Light, DejaVu Sans, sans-serif" font-weight="200" fill="#262626" textLength="16.3" lengthAdjust="spacingAndGlyphs">+</text>
<text x="993.70" y="98.80" font-size="26" font-family="Liberation Serif, serif" fill="#262626" textLength="7.20" lengthAdjust="spacingAndGlyphs">/</text>
<text x="1001.60" y="94.70" font-size="17.2" font-family="Liberation Serif, serif" fill="#262626" textLength="4.90" lengthAdjust="spacingAndGlyphs">-</text>
<text x="1012.00" y="94.70" font-size="17.2" font-family="Liberation Serif, serif" fill="#262626" textLength="7.20" lengthAdjust="spacingAndGlyphs">1</text><text x="1041.50" y="94.70" font-size="17.2" font-family="Liberation Serif, serif" fill="#262626" textLength="24.60" lengthAdjust="spacingAndGlyphs">and</text><text x="1072.30" y="94.70" font-size="17.2" font-family="Liberation Serif, serif" fill="#262626" textLength="45.10" lengthAdjust="spacingAndGlyphs">Range</text>
<text x="1026.80" y="94.70" font-size="17.6" font-family="DejaVu Sans, sans-serif" font-style="italic" fill="#262626" textLength="9.70" lengthAdjust="spacingAndGlyphs">σ</text>
<text x="978.60" y="120.90" font-size="17.2" font-family="Liberation Serif, serif" fill="#262626" textLength="41.90" lengthAdjust="spacingAndGlyphs">Today</text>
<rect x="1054.1" y="662.9" width="166.5" height="23.8" rx="4" ry="4" fill="#1b1b1d"/>
<text x="1058.80" y="679.00" font-size="15" font-family="Liberation Serif, serif" fill="#f4f4f4" textLength="76.70" lengthAdjust="spacingAndGlyphs">atlas.niu.edu</text><text x="1143.50" y="679.00" font-size="15" font-family="Liberation Serif, serif" fill="#f4f4f4" textLength="71.90" lengthAdjust="spacingAndGlyphs">@gensiniwx</text>
</g>
</svg>
</body></html>
